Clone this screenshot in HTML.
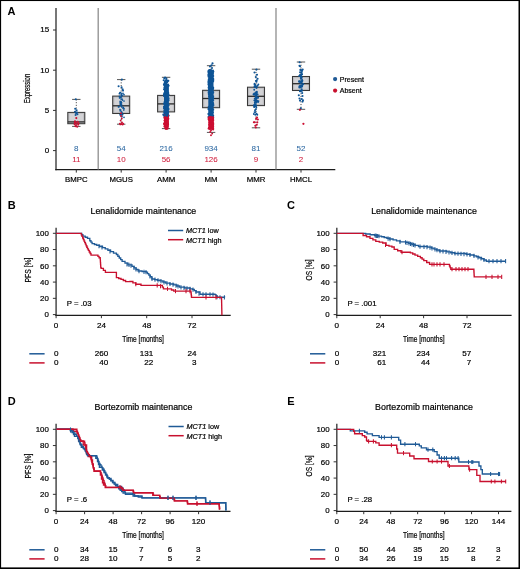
<!DOCTYPE html>
<html><head><meta charset="utf-8"><style>
html,body{margin:0;padding:0;background:#fff;}
svg{display:block;font-family:"Liberation Sans", sans-serif;will-change:transform;}
</style></head><body>
<svg width="520" height="569" viewBox="0 0 520 569">
<rect x="0" y="0" width="520" height="569" fill="#fff"/>
<text x="7.60" y="15.40" font-size="11" text-anchor="start" fill="#000" font-weight="bold" font-style="normal" >A</text>
<line x1="56.00" y1="8.00" x2="56.00" y2="170.20" stroke="#4a4a4a" stroke-width="1.5" />
<line x1="55.30" y1="169.60" x2="335.30" y2="169.60" stroke="#1c1c1c" stroke-width="1.3" />
<line x1="53.00" y1="150.60" x2="56.00" y2="150.60" stroke="#333333" stroke-width="1" />
<text x="49.20" y="152.90" font-size="8" text-anchor="end" fill="#000000" stroke="#000000" stroke-width="0.2" font-weight="normal" font-style="normal" >0</text>
<line x1="53.00" y1="110.40" x2="56.00" y2="110.40" stroke="#333333" stroke-width="1" />
<text x="49.20" y="112.70" font-size="8" text-anchor="end" fill="#000000" stroke="#000000" stroke-width="0.2" font-weight="normal" font-style="normal" >5</text>
<line x1="53.00" y1="70.20" x2="56.00" y2="70.20" stroke="#333333" stroke-width="1" />
<text x="49.20" y="72.50" font-size="8" text-anchor="end" fill="#000000" stroke="#000000" stroke-width="0.2" font-weight="normal" font-style="normal" >10</text>
<line x1="53.00" y1="30.00" x2="56.00" y2="30.00" stroke="#333333" stroke-width="1" />
<text x="49.20" y="32.30" font-size="8" text-anchor="end" fill="#000000" stroke="#000000" stroke-width="0.2" font-weight="normal" font-style="normal" >15</text>
<text transform="translate(30.3,88.5) rotate(-90)" font-size="9.2" text-anchor="middle" fill="#000000" stroke="#000000" stroke-width="0.2" textLength="29.5" lengthAdjust="spacingAndGlyphs">Expression</text>
<line x1="98.20" y1="8.00" x2="98.20" y2="169.60" stroke="#8e8e8e" stroke-width="1.3" />
<line x1="276.00" y1="8.00" x2="276.00" y2="169.60" stroke="#8e8e8e" stroke-width="1.3" />
<line x1="76.30" y1="169.60" x2="76.30" y2="172.60" stroke="#333333" stroke-width="1" />
<text x="76.30" y="182.30" font-size="7.8" text-anchor="middle" fill="#000000" stroke="#000000" stroke-width="0.2" font-weight="normal" font-style="normal" >BMPC</text>
<text x="76.30" y="150.80" font-size="8" text-anchor="middle" fill="#2f6aa3" stroke="#2f6aa3" stroke-width="0.05" font-weight="normal" font-style="normal" >8</text>
<text x="76.30" y="162.00" font-size="8" text-anchor="middle" fill="#d0203f" stroke="#d0203f" stroke-width="0.05" font-weight="normal" font-style="normal" >11</text>
<line x1="76.30" y1="99.40" x2="76.30" y2="112.40" stroke="#333" stroke-width="0.9" stroke-dasharray="1.1,1.6"/>
<line x1="76.30" y1="123.70" x2="76.30" y2="126.40" stroke="#333" stroke-width="0.9" stroke-dasharray="1.1,1.6"/>
<line x1="72.10" y1="99.40" x2="80.50" y2="99.40" stroke="#555" stroke-width="1" />
<line x1="72.10" y1="126.40" x2="80.50" y2="126.40" stroke="#555" stroke-width="1" />
<rect x="67.80" y="112.40" width="17" height="11.30" fill="#c0c0c3" stroke="#383838" stroke-width="1.05"/>
<rect x="69.50" y="114.00" width="13.6" height="8.10" fill="#d3d3d6"/>
<line x1="67.90" y1="121.90" x2="84.70" y2="121.90" stroke="#2a2a2a" stroke-width="1.3" />
<line x1="121.20" y1="169.60" x2="121.20" y2="172.60" stroke="#333333" stroke-width="1" />
<text x="121.20" y="182.30" font-size="7.8" text-anchor="middle" fill="#000000" stroke="#000000" stroke-width="0.2" font-weight="normal" font-style="normal" >MGUS</text>
<text x="121.20" y="150.80" font-size="8" text-anchor="middle" fill="#2f6aa3" stroke="#2f6aa3" stroke-width="0.05" font-weight="normal" font-style="normal" >54</text>
<text x="121.20" y="162.00" font-size="8" text-anchor="middle" fill="#d0203f" stroke="#d0203f" stroke-width="0.05" font-weight="normal" font-style="normal" >10</text>
<line x1="121.20" y1="79.60" x2="121.20" y2="96.10" stroke="#333" stroke-width="0.9" stroke-dasharray="1.1,1.6"/>
<line x1="121.20" y1="113.50" x2="121.20" y2="124.20" stroke="#333" stroke-width="0.9" stroke-dasharray="1.1,1.6"/>
<line x1="117.00" y1="79.60" x2="125.40" y2="79.60" stroke="#555" stroke-width="1" />
<line x1="117.00" y1="124.20" x2="125.40" y2="124.20" stroke="#555" stroke-width="1" />
<rect x="112.70" y="96.10" width="17" height="17.40" fill="#c0c0c3" stroke="#383838" stroke-width="1.05"/>
<rect x="114.40" y="97.70" width="13.6" height="14.20" fill="#d3d3d6"/>
<line x1="112.80" y1="105.80" x2="129.60" y2="105.80" stroke="#2a2a2a" stroke-width="1.3" />
<line x1="166.10" y1="169.60" x2="166.10" y2="172.60" stroke="#333333" stroke-width="1" />
<text x="166.10" y="182.30" font-size="7.8" text-anchor="middle" fill="#000000" stroke="#000000" stroke-width="0.2" font-weight="normal" font-style="normal" >AMM</text>
<text x="166.10" y="150.80" font-size="8" text-anchor="middle" fill="#2f6aa3" stroke="#2f6aa3" stroke-width="0.05" font-weight="normal" font-style="normal" >216</text>
<text x="166.10" y="162.00" font-size="8" text-anchor="middle" fill="#d0203f" stroke="#d0203f" stroke-width="0.05" font-weight="normal" font-style="normal" >56</text>
<line x1="166.10" y1="77.30" x2="166.10" y2="95.40" stroke="#333" stroke-width="0.9" stroke-dasharray="1.1,1.6"/>
<line x1="166.10" y1="111.90" x2="166.10" y2="128.60" stroke="#333" stroke-width="0.9" stroke-dasharray="1.1,1.6"/>
<line x1="161.90" y1="77.30" x2="170.30" y2="77.30" stroke="#555" stroke-width="1" />
<line x1="161.90" y1="128.60" x2="170.30" y2="128.60" stroke="#555" stroke-width="1" />
<rect x="157.60" y="95.40" width="17" height="16.50" fill="#c0c0c3" stroke="#383838" stroke-width="1.05"/>
<rect x="159.30" y="97.00" width="13.6" height="13.30" fill="#d3d3d6"/>
<line x1="157.70" y1="103.90" x2="174.50" y2="103.90" stroke="#2a2a2a" stroke-width="1.3" />
<line x1="211.10" y1="169.60" x2="211.10" y2="172.60" stroke="#333333" stroke-width="1" />
<text x="211.10" y="182.30" font-size="7.8" text-anchor="middle" fill="#000000" stroke="#000000" stroke-width="0.2" font-weight="normal" font-style="normal" >MM</text>
<text x="211.10" y="150.80" font-size="8" text-anchor="middle" fill="#2f6aa3" stroke="#2f6aa3" stroke-width="0.05" font-weight="normal" font-style="normal" >934</text>
<text x="211.10" y="162.00" font-size="8" text-anchor="middle" fill="#d0203f" stroke="#d0203f" stroke-width="0.05" font-weight="normal" font-style="normal" >126</text>
<line x1="211.10" y1="65.70" x2="211.10" y2="90.30" stroke="#333" stroke-width="0.9" stroke-dasharray="1.1,1.6"/>
<line x1="211.10" y1="107.70" x2="211.10" y2="132.40" stroke="#333" stroke-width="0.9" stroke-dasharray="1.1,1.6"/>
<line x1="206.90" y1="65.70" x2="215.30" y2="65.70" stroke="#555" stroke-width="1" />
<line x1="206.90" y1="132.40" x2="215.30" y2="132.40" stroke="#555" stroke-width="1" />
<rect x="202.60" y="90.30" width="17" height="17.40" fill="#c0c0c3" stroke="#383838" stroke-width="1.05"/>
<rect x="204.30" y="91.90" width="13.6" height="14.20" fill="#d3d3d6"/>
<line x1="202.70" y1="98.50" x2="219.50" y2="98.50" stroke="#2a2a2a" stroke-width="1.3" />
<line x1="256.00" y1="169.60" x2="256.00" y2="172.60" stroke="#333333" stroke-width="1" />
<text x="256.00" y="182.30" font-size="7.8" text-anchor="middle" fill="#000000" stroke="#000000" stroke-width="0.2" font-weight="normal" font-style="normal" >MMR</text>
<text x="256.00" y="150.80" font-size="8" text-anchor="middle" fill="#2f6aa3" stroke="#2f6aa3" stroke-width="0.05" font-weight="normal" font-style="normal" >81</text>
<text x="256.00" y="162.00" font-size="8" text-anchor="middle" fill="#d0203f" stroke="#d0203f" stroke-width="0.05" font-weight="normal" font-style="normal" >9</text>
<line x1="256.00" y1="69.20" x2="256.00" y2="87.20" stroke="#333" stroke-width="0.9" stroke-dasharray="1.1,1.6"/>
<line x1="256.00" y1="105.60" x2="256.00" y2="127.80" stroke="#333" stroke-width="0.9" stroke-dasharray="1.1,1.6"/>
<line x1="251.80" y1="69.20" x2="260.20" y2="69.20" stroke="#555" stroke-width="1" />
<line x1="251.80" y1="127.80" x2="260.20" y2="127.80" stroke="#555" stroke-width="1" />
<rect x="247.50" y="87.20" width="17" height="18.40" fill="#c0c0c3" stroke="#383838" stroke-width="1.05"/>
<rect x="249.20" y="88.80" width="13.6" height="15.20" fill="#d3d3d6"/>
<line x1="247.60" y1="96.30" x2="264.40" y2="96.30" stroke="#2a2a2a" stroke-width="1.3" />
<line x1="301.00" y1="169.60" x2="301.00" y2="172.60" stroke="#333333" stroke-width="1" />
<text x="301.00" y="182.30" font-size="7.8" text-anchor="middle" fill="#000000" stroke="#000000" stroke-width="0.2" font-weight="normal" font-style="normal" >HMCL</text>
<text x="301.00" y="150.80" font-size="8" text-anchor="middle" fill="#2f6aa3" stroke="#2f6aa3" stroke-width="0.05" font-weight="normal" font-style="normal" >52</text>
<text x="301.00" y="162.00" font-size="8" text-anchor="middle" fill="#d0203f" stroke="#d0203f" stroke-width="0.05" font-weight="normal" font-style="normal" >2</text>
<line x1="301.00" y1="62.00" x2="301.00" y2="76.50" stroke="#333" stroke-width="0.9" stroke-dasharray="1.1,1.6"/>
<line x1="301.00" y1="90.50" x2="301.00" y2="109.30" stroke="#333" stroke-width="0.9" stroke-dasharray="1.1,1.6"/>
<line x1="296.80" y1="62.00" x2="305.20" y2="62.00" stroke="#555" stroke-width="1" />
<line x1="296.80" y1="109.30" x2="305.20" y2="109.30" stroke="#555" stroke-width="1" />
<rect x="292.50" y="76.50" width="17" height="14.00" fill="#c0c0c3" stroke="#383838" stroke-width="1.05"/>
<rect x="294.20" y="78.10" width="13.6" height="10.80" fill="#d3d3d6"/>
<line x1="292.60" y1="83.70" x2="309.40" y2="83.70" stroke="#2a2a2a" stroke-width="1.3" />
<rect x="164.0" y="84" width="4.9" height="31" fill="#0f5596"/>
<rect x="164.0" y="115.5" width="4.9" height="12" fill="#cc0f32"/>
<rect x="208.3" y="73" width="5.2" height="44.3" fill="#0f5596"/>
<rect x="208.3" y="117.3" width="5.2" height="11.7" fill="#cc0f32"/>
<circle cx="75.80" cy="99.30" r="1.05" fill="#0f5596"/>
<circle cx="75.20" cy="108.80" r="1.05" fill="#0f5596"/>
<circle cx="76.60" cy="110.20" r="1.05" fill="#0f5596"/>
<circle cx="75.00" cy="111.80" r="1.05" fill="#0f5596"/>
<circle cx="76.20" cy="113.20" r="1.05" fill="#0f5596"/>
<circle cx="77.40" cy="114.20" r="1.05" fill="#0f5596"/>
<circle cx="75.60" cy="115.00" r="1.05" fill="#0f5596"/>
<circle cx="77.00" cy="112.50" r="1.05" fill="#0f5596"/>
<circle cx="76.30" cy="118.10" r="1.05" fill="#cc0f32"/>
<circle cx="75.00" cy="121.30" r="1.05" fill="#cc0f32"/>
<circle cx="77.60" cy="121.80" r="1.05" fill="#cc0f32"/>
<circle cx="76.20" cy="123.00" r="1.05" fill="#cc0f32"/>
<circle cx="74.60" cy="124.20" r="1.05" fill="#cc0f32"/>
<circle cx="78.20" cy="124.60" r="1.05" fill="#cc0f32"/>
<circle cx="75.40" cy="126.30" r="1.05" fill="#cc0f32"/>
<circle cx="77.20" cy="126.80" r="1.05" fill="#cc0f32"/>
<circle cx="76.00" cy="125.20" r="1.05" fill="#cc0f32"/>
<circle cx="78.60" cy="123.20" r="1.05" fill="#cc0f32"/>
<circle cx="74.80" cy="122.60" r="1.05" fill="#cc0f32"/>
<circle cx="121.90" cy="79.60" r="1.05" fill="#0f5596"/>
<circle cx="118.60" cy="86.20" r="1.05" fill="#0f5596"/>
<circle cx="121.60" cy="87.20" r="1.05" fill="#0f5596"/>
<circle cx="122.60" cy="89.20" r="1.05" fill="#0f5596"/>
<circle cx="123.00" cy="90.60" r="1.05" fill="#0f5596"/>
<circle cx="122.47" cy="100.08" r="0.85" fill="#0f5596"/>
<circle cx="122.97" cy="93.42" r="0.85" fill="#0f5596"/>
<circle cx="120.86" cy="105.70" r="0.85" fill="#0f5596"/>
<circle cx="121.59" cy="104.95" r="0.85" fill="#0f5596"/>
<circle cx="120.68" cy="92.49" r="0.85" fill="#0f5596"/>
<circle cx="121.43" cy="93.90" r="0.85" fill="#0f5596"/>
<circle cx="121.56" cy="102.75" r="0.85" fill="#0f5596"/>
<circle cx="120.52" cy="97.42" r="0.85" fill="#0f5596"/>
<circle cx="123.06" cy="108.13" r="0.85" fill="#0f5596"/>
<circle cx="120.56" cy="102.01" r="0.85" fill="#0f5596"/>
<circle cx="124.00" cy="117.37" r="0.85" fill="#0f5596"/>
<circle cx="122.06" cy="99.17" r="0.85" fill="#0f5596"/>
<circle cx="122.15" cy="95.32" r="0.85" fill="#0f5596"/>
<circle cx="122.07" cy="113.13" r="0.85" fill="#0f5596"/>
<circle cx="119.33" cy="96.29" r="0.85" fill="#0f5596"/>
<circle cx="120.15" cy="101.37" r="0.85" fill="#0f5596"/>
<circle cx="121.69" cy="106.02" r="0.85" fill="#0f5596"/>
<circle cx="121.40" cy="96.96" r="0.85" fill="#0f5596"/>
<circle cx="120.03" cy="109.53" r="0.85" fill="#0f5596"/>
<circle cx="121.77" cy="107.02" r="0.85" fill="#0f5596"/>
<circle cx="120.38" cy="103.51" r="0.85" fill="#0f5596"/>
<circle cx="123.74" cy="110.02" r="0.85" fill="#0f5596"/>
<circle cx="119.57" cy="97.97" r="0.85" fill="#0f5596"/>
<circle cx="120.37" cy="114.69" r="0.85" fill="#0f5596"/>
<circle cx="120.21" cy="110.83" r="0.85" fill="#0f5596"/>
<circle cx="124.00" cy="94.63" r="0.85" fill="#0f5596"/>
<circle cx="121.24" cy="102.58" r="0.85" fill="#0f5596"/>
<circle cx="120.34" cy="104.46" r="0.85" fill="#0f5596"/>
<circle cx="119.95" cy="92.54" r="0.85" fill="#0f5596"/>
<circle cx="118.98" cy="106.69" r="0.85" fill="#0f5596"/>
<circle cx="120.30" cy="114.70" r="0.85" fill="#0f5596"/>
<circle cx="123.33" cy="107.25" r="0.85" fill="#0f5596"/>
<circle cx="118.44" cy="106.87" r="0.85" fill="#0f5596"/>
<circle cx="121.98" cy="116.53" r="0.85" fill="#0f5596"/>
<circle cx="120.93" cy="104.06" r="0.85" fill="#0f5596"/>
<circle cx="120.74" cy="110.09" r="0.85" fill="#0f5596"/>
<circle cx="123.98" cy="108.65" r="0.85" fill="#0f5596"/>
<circle cx="121.08" cy="99.04" r="0.85" fill="#0f5596"/>
<circle cx="121.04" cy="101.72" r="0.85" fill="#0f5596"/>
<circle cx="120.92" cy="103.73" r="0.85" fill="#0f5596"/>
<circle cx="121.59" cy="95.95" r="0.85" fill="#0f5596"/>
<circle cx="121.55" cy="111.86" r="0.85" fill="#0f5596"/>
<circle cx="121.22" cy="94.93" r="0.85" fill="#0f5596"/>
<circle cx="122.69" cy="114.59" r="0.85" fill="#0f5596"/>
<circle cx="119.40" cy="93.64" r="0.85" fill="#0f5596"/>
<circle cx="121.79" cy="114.91" r="0.85" fill="#0f5596"/>
<circle cx="122.00" cy="113.21" r="0.85" fill="#0f5596"/>
<circle cx="120.29" cy="102.51" r="0.85" fill="#0f5596"/>
<circle cx="124.00" cy="101.01" r="0.85" fill="#0f5596"/>
<circle cx="121.00" cy="113.20" r="0.95" fill="#cc0f32"/>
<circle cx="121.80" cy="118.50" r="0.95" fill="#cc0f32"/>
<circle cx="120.60" cy="120.60" r="0.95" fill="#cc0f32"/>
<circle cx="122.00" cy="122.40" r="0.95" fill="#cc0f32"/>
<circle cx="119.80" cy="123.60" r="0.95" fill="#cc0f32"/>
<circle cx="121.40" cy="124.00" r="0.95" fill="#cc0f32"/>
<circle cx="123.20" cy="123.80" r="0.95" fill="#cc0f32"/>
<circle cx="120.40" cy="124.40" r="0.95" fill="#cc0f32"/>
<circle cx="122.60" cy="124.60" r="0.95" fill="#cc0f32"/>
<circle cx="121.00" cy="116.00" r="0.95" fill="#cc0f32"/>
<circle cx="164.29" cy="78.36" r="1.05" fill="#0f5596"/>
<circle cx="166.40" cy="78.59" r="1.05" fill="#0f5596"/>
<circle cx="167.17" cy="81.36" r="1.05" fill="#0f5596"/>
<circle cx="166.29" cy="82.30" r="1.05" fill="#0f5596"/>
<circle cx="166.41" cy="80.77" r="1.05" fill="#0f5596"/>
<circle cx="163.70" cy="80.32" r="1.05" fill="#0f5596"/>
<circle cx="165.10" cy="83.21" r="1.05" fill="#0f5596"/>
<circle cx="164.97" cy="81.64" r="1.05" fill="#0f5596"/>
<circle cx="165.09" cy="77.49" r="1.05" fill="#0f5596"/>
<circle cx="166.76" cy="85.10" r="1.05" fill="#0f5596"/>
<circle cx="163.90" cy="84.18" r="1.05" fill="#0f5596"/>
<circle cx="165.85" cy="80.53" r="1.05" fill="#0f5596"/>
<circle cx="166.69" cy="102.83" r="1.05" fill="#0f5596"/>
<circle cx="167.17" cy="82.24" r="1.05" fill="#0f5596"/>
<circle cx="166.69" cy="85.84" r="1.05" fill="#0f5596"/>
<circle cx="166.33" cy="92.24" r="1.05" fill="#0f5596"/>
<circle cx="166.31" cy="85.45" r="1.05" fill="#0f5596"/>
<circle cx="166.09" cy="83.65" r="1.05" fill="#0f5596"/>
<circle cx="166.54" cy="111.48" r="1.05" fill="#0f5596"/>
<circle cx="166.94" cy="102.11" r="1.05" fill="#0f5596"/>
<circle cx="167.16" cy="92.51" r="1.05" fill="#0f5596"/>
<circle cx="168.25" cy="93.11" r="1.05" fill="#0f5596"/>
<circle cx="168.20" cy="115.75" r="1.05" fill="#0f5596"/>
<circle cx="165.71" cy="96.78" r="1.05" fill="#0f5596"/>
<circle cx="166.36" cy="83.68" r="1.05" fill="#0f5596"/>
<circle cx="166.06" cy="92.33" r="1.05" fill="#0f5596"/>
<circle cx="168.60" cy="85.81" r="1.05" fill="#0f5596"/>
<circle cx="167.94" cy="80.83" r="1.05" fill="#0f5596"/>
<circle cx="165.78" cy="85.28" r="1.05" fill="#0f5596"/>
<circle cx="167.99" cy="99.55" r="1.05" fill="#0f5596"/>
<circle cx="166.59" cy="115.23" r="1.05" fill="#0f5596"/>
<circle cx="165.94" cy="111.08" r="1.05" fill="#0f5596"/>
<circle cx="165.27" cy="93.20" r="1.05" fill="#0f5596"/>
<circle cx="166.54" cy="86.01" r="1.05" fill="#0f5596"/>
<circle cx="164.59" cy="108.05" r="1.05" fill="#0f5596"/>
<circle cx="166.73" cy="91.87" r="1.05" fill="#0f5596"/>
<circle cx="168.60" cy="115.46" r="1.05" fill="#0f5596"/>
<circle cx="167.19" cy="110.69" r="1.05" fill="#0f5596"/>
<circle cx="164.00" cy="106.64" r="1.05" fill="#0f5596"/>
<circle cx="165.00" cy="88.16" r="1.05" fill="#0f5596"/>
<circle cx="166.15" cy="81.04" r="1.05" fill="#0f5596"/>
<circle cx="166.10" cy="81.01" r="1.05" fill="#0f5596"/>
<circle cx="167.37" cy="104.93" r="1.05" fill="#0f5596"/>
<circle cx="164.00" cy="114.43" r="1.05" fill="#0f5596"/>
<circle cx="167.37" cy="115.57" r="1.05" fill="#0f5596"/>
<circle cx="165.65" cy="114.38" r="1.05" fill="#0f5596"/>
<circle cx="167.04" cy="88.17" r="1.05" fill="#0f5596"/>
<circle cx="166.85" cy="87.08" r="1.05" fill="#0f5596"/>
<circle cx="168.18" cy="112.41" r="1.05" fill="#0f5596"/>
<circle cx="164.28" cy="110.26" r="1.05" fill="#0f5596"/>
<circle cx="166.56" cy="108.79" r="1.05" fill="#0f5596"/>
<circle cx="164.66" cy="83.05" r="1.05" fill="#0f5596"/>
<circle cx="164.00" cy="108.16" r="1.05" fill="#0f5596"/>
<circle cx="165.43" cy="107.01" r="1.05" fill="#0f5596"/>
<circle cx="166.42" cy="108.41" r="1.05" fill="#0f5596"/>
<circle cx="167.47" cy="91.97" r="1.05" fill="#0f5596"/>
<circle cx="164.00" cy="94.25" r="1.05" fill="#0f5596"/>
<circle cx="168.42" cy="94.45" r="1.05" fill="#0f5596"/>
<circle cx="165.56" cy="86.12" r="1.05" fill="#0f5596"/>
<circle cx="168.07" cy="84.57" r="1.05" fill="#0f5596"/>
<circle cx="168.60" cy="109.03" r="1.05" fill="#0f5596"/>
<circle cx="168.11" cy="85.26" r="1.05" fill="#0f5596"/>
<circle cx="164.00" cy="103.66" r="1.05" fill="#0f5596"/>
<circle cx="165.59" cy="92.61" r="1.05" fill="#0f5596"/>
<circle cx="166.08" cy="80.51" r="1.05" fill="#0f5596"/>
<circle cx="165.29" cy="114.95" r="1.05" fill="#0f5596"/>
<circle cx="164.92" cy="113.61" r="1.05" fill="#0f5596"/>
<circle cx="168.11" cy="95.62" r="1.05" fill="#0f5596"/>
<circle cx="164.41" cy="87.60" r="1.05" fill="#0f5596"/>
<circle cx="166.02" cy="89.07" r="1.05" fill="#0f5596"/>
<circle cx="167.30" cy="101.11" r="1.05" fill="#0f5596"/>
<circle cx="165.65" cy="89.34" r="1.05" fill="#0f5596"/>
<circle cx="166.66" cy="112.76" r="1.05" fill="#0f5596"/>
<circle cx="164.51" cy="92.74" r="1.05" fill="#0f5596"/>
<circle cx="166.78" cy="112.55" r="1.05" fill="#0f5596"/>
<circle cx="167.74" cy="95.14" r="1.05" fill="#0f5596"/>
<circle cx="165.48" cy="99.15" r="1.05" fill="#0f5596"/>
<circle cx="167.80" cy="98.85" r="1.05" fill="#0f5596"/>
<circle cx="166.48" cy="86.59" r="1.05" fill="#0f5596"/>
<circle cx="166.56" cy="80.14" r="1.05" fill="#0f5596"/>
<circle cx="165.48" cy="97.05" r="1.05" fill="#0f5596"/>
<circle cx="165.13" cy="106.11" r="1.05" fill="#0f5596"/>
<circle cx="165.87" cy="98.66" r="1.05" fill="#0f5596"/>
<circle cx="166.44" cy="100.00" r="1.05" fill="#0f5596"/>
<circle cx="165.65" cy="100.17" r="1.05" fill="#0f5596"/>
<circle cx="165.89" cy="88.95" r="1.05" fill="#0f5596"/>
<circle cx="168.60" cy="98.28" r="1.05" fill="#0f5596"/>
<circle cx="166.49" cy="100.22" r="1.05" fill="#0f5596"/>
<circle cx="164.00" cy="95.96" r="1.05" fill="#0f5596"/>
<circle cx="164.62" cy="102.05" r="1.05" fill="#0f5596"/>
<circle cx="166.24" cy="104.94" r="1.05" fill="#0f5596"/>
<circle cx="164.74" cy="96.28" r="1.05" fill="#0f5596"/>
<circle cx="165.97" cy="113.89" r="1.05" fill="#0f5596"/>
<circle cx="168.60" cy="105.17" r="1.05" fill="#0f5596"/>
<circle cx="164.00" cy="89.35" r="1.05" fill="#0f5596"/>
<circle cx="168.60" cy="100.14" r="1.05" fill="#0f5596"/>
<circle cx="165.36" cy="84.94" r="1.05" fill="#0f5596"/>
<circle cx="165.79" cy="84.38" r="1.05" fill="#0f5596"/>
<circle cx="166.49" cy="88.66" r="1.05" fill="#0f5596"/>
<circle cx="165.11" cy="82.63" r="1.05" fill="#0f5596"/>
<circle cx="164.16" cy="112.29" r="1.05" fill="#0f5596"/>
<circle cx="165.87" cy="85.56" r="1.05" fill="#0f5596"/>
<circle cx="164.29" cy="85.15" r="1.05" fill="#0f5596"/>
<circle cx="167.27" cy="111.78" r="1.05" fill="#0f5596"/>
<circle cx="166.10" cy="114.29" r="1.05" fill="#0f5596"/>
<circle cx="164.00" cy="94.34" r="1.05" fill="#0f5596"/>
<circle cx="166.64" cy="109.97" r="1.05" fill="#0f5596"/>
<circle cx="164.77" cy="85.81" r="1.05" fill="#0f5596"/>
<circle cx="167.00" cy="92.21" r="1.05" fill="#0f5596"/>
<circle cx="165.36" cy="87.05" r="1.05" fill="#0f5596"/>
<circle cx="168.34" cy="80.70" r="1.05" fill="#0f5596"/>
<circle cx="166.05" cy="99.95" r="1.05" fill="#0f5596"/>
<circle cx="166.40" cy="91.93" r="1.05" fill="#0f5596"/>
<circle cx="165.79" cy="102.46" r="1.05" fill="#0f5596"/>
<circle cx="166.26" cy="115.46" r="1.05" fill="#0f5596"/>
<circle cx="166.95" cy="108.38" r="1.05" fill="#0f5596"/>
<circle cx="166.18" cy="89.56" r="1.05" fill="#0f5596"/>
<circle cx="166.50" cy="81.43" r="1.05" fill="#0f5596"/>
<circle cx="165.21" cy="84.66" r="1.05" fill="#0f5596"/>
<circle cx="168.50" cy="95.20" r="1.05" fill="#0f5596"/>
<circle cx="164.93" cy="89.31" r="1.05" fill="#0f5596"/>
<circle cx="167.89" cy="85.38" r="1.05" fill="#0f5596"/>
<circle cx="165.54" cy="124.81" r="1.05" fill="#cc0f32"/>
<circle cx="168.01" cy="116.25" r="1.05" fill="#cc0f32"/>
<circle cx="166.95" cy="120.95" r="1.05" fill="#cc0f32"/>
<circle cx="167.88" cy="116.01" r="1.05" fill="#cc0f32"/>
<circle cx="165.66" cy="126.22" r="1.05" fill="#cc0f32"/>
<circle cx="166.58" cy="116.17" r="1.05" fill="#cc0f32"/>
<circle cx="165.95" cy="127.08" r="1.05" fill="#cc0f32"/>
<circle cx="165.49" cy="121.35" r="1.05" fill="#cc0f32"/>
<circle cx="167.59" cy="127.97" r="1.05" fill="#cc0f32"/>
<circle cx="167.31" cy="118.75" r="1.05" fill="#cc0f32"/>
<circle cx="167.37" cy="118.34" r="1.05" fill="#cc0f32"/>
<circle cx="166.50" cy="116.53" r="1.05" fill="#cc0f32"/>
<circle cx="166.63" cy="117.82" r="1.05" fill="#cc0f32"/>
<circle cx="165.61" cy="119.37" r="1.05" fill="#cc0f32"/>
<circle cx="168.21" cy="119.06" r="1.05" fill="#cc0f32"/>
<circle cx="166.78" cy="122.00" r="1.05" fill="#cc0f32"/>
<circle cx="167.30" cy="115.25" r="1.05" fill="#cc0f32"/>
<circle cx="168.24" cy="118.51" r="1.05" fill="#cc0f32"/>
<circle cx="166.49" cy="122.71" r="1.05" fill="#cc0f32"/>
<circle cx="164.30" cy="117.65" r="1.05" fill="#cc0f32"/>
<circle cx="166.74" cy="116.49" r="1.05" fill="#cc0f32"/>
<circle cx="165.02" cy="126.46" r="1.05" fill="#cc0f32"/>
<circle cx="166.88" cy="126.68" r="1.05" fill="#cc0f32"/>
<circle cx="164.47" cy="120.50" r="1.05" fill="#cc0f32"/>
<circle cx="166.22" cy="128.75" r="1.05" fill="#cc0f32"/>
<circle cx="167.23" cy="119.80" r="1.05" fill="#cc0f32"/>
<circle cx="164.67" cy="123.90" r="1.05" fill="#cc0f32"/>
<circle cx="166.07" cy="120.67" r="1.05" fill="#cc0f32"/>
<circle cx="166.63" cy="116.82" r="1.05" fill="#cc0f32"/>
<circle cx="166.25" cy="115.99" r="1.05" fill="#cc0f32"/>
<circle cx="165.38" cy="117.29" r="1.05" fill="#cc0f32"/>
<circle cx="167.62" cy="116.18" r="1.05" fill="#cc0f32"/>
<circle cx="164.30" cy="124.39" r="1.05" fill="#cc0f32"/>
<circle cx="166.35" cy="118.95" r="1.05" fill="#cc0f32"/>
<circle cx="167.30" cy="121.43" r="1.05" fill="#cc0f32"/>
<circle cx="165.42" cy="117.21" r="1.05" fill="#cc0f32"/>
<circle cx="166.61" cy="128.47" r="1.05" fill="#cc0f32"/>
<circle cx="165.44" cy="128.62" r="1.05" fill="#cc0f32"/>
<circle cx="166.04" cy="128.52" r="1.05" fill="#cc0f32"/>
<circle cx="166.27" cy="119.33" r="1.05" fill="#cc0f32"/>
<circle cx="166.34" cy="120.34" r="1.05" fill="#cc0f32"/>
<circle cx="165.50" cy="121.65" r="1.05" fill="#cc0f32"/>
<circle cx="166.29" cy="122.07" r="1.05" fill="#cc0f32"/>
<circle cx="166.25" cy="115.07" r="1.05" fill="#cc0f32"/>
<circle cx="166.82" cy="120.59" r="1.05" fill="#cc0f32"/>
<circle cx="167.31" cy="115.58" r="1.05" fill="#cc0f32"/>
<circle cx="166.44" cy="118.26" r="1.05" fill="#cc0f32"/>
<circle cx="164.33" cy="123.20" r="1.05" fill="#cc0f32"/>
<circle cx="165.94" cy="124.21" r="1.05" fill="#cc0f32"/>
<circle cx="167.16" cy="125.02" r="1.05" fill="#cc0f32"/>
<circle cx="165.48" cy="119.57" r="1.05" fill="#cc0f32"/>
<circle cx="167.44" cy="128.79" r="1.05" fill="#cc0f32"/>
<circle cx="167.85" cy="124.01" r="1.05" fill="#cc0f32"/>
<circle cx="167.59" cy="115.61" r="1.05" fill="#cc0f32"/>
<circle cx="164.30" cy="123.78" r="1.05" fill="#cc0f32"/>
<circle cx="166.55" cy="125.27" r="1.05" fill="#cc0f32"/>
<circle cx="165.69" cy="122.33" r="1.05" fill="#cc0f32"/>
<circle cx="167.40" cy="122.06" r="1.05" fill="#cc0f32"/>
<circle cx="164.43" cy="126.57" r="1.05" fill="#cc0f32"/>
<circle cx="167.72" cy="123.18" r="1.05" fill="#cc0f32"/>
<circle cx="165.17" cy="124.71" r="1.05" fill="#cc0f32"/>
<circle cx="166.93" cy="118.22" r="1.05" fill="#cc0f32"/>
<circle cx="166.42" cy="120.05" r="1.05" fill="#cc0f32"/>
<circle cx="167.09" cy="116.47" r="1.05" fill="#cc0f32"/>
<circle cx="164.98" cy="123.79" r="1.05" fill="#cc0f32"/>
<circle cx="165.71" cy="123.77" r="1.05" fill="#cc0f32"/>
<circle cx="165.04" cy="115.05" r="1.05" fill="#cc0f32"/>
<circle cx="166.28" cy="126.17" r="1.05" fill="#cc0f32"/>
<circle cx="164.88" cy="122.49" r="1.05" fill="#cc0f32"/>
<circle cx="168.09" cy="124.23" r="1.05" fill="#cc0f32"/>
<circle cx="167.29" cy="114.26" r="1.05" fill="#0f5596"/>
<circle cx="167.35" cy="115.69" r="1.05" fill="#0f5596"/>
<circle cx="166.83" cy="114.12" r="1.05" fill="#0f5596"/>
<circle cx="166.04" cy="114.98" r="1.05" fill="#0f5596"/>
<circle cx="163.30" cy="114.65" r="1.05" fill="#0f5596"/>
<circle cx="164.04" cy="115.80" r="1.05" fill="#0f5596"/>
<circle cx="166.60" cy="115.35" r="1.05" fill="#0f5596"/>
<circle cx="165.92" cy="113.94" r="1.05" fill="#0f5596"/>
<circle cx="165.83" cy="114.26" r="1.05" fill="#0f5596"/>
<circle cx="166.25" cy="115.20" r="1.05" fill="#0f5596"/>
<circle cx="212.50" cy="63.40" r="1.05" fill="#0f5596"/>
<circle cx="211.50" cy="65.20" r="1.05" fill="#0f5596"/>
<circle cx="210.00" cy="66.50" r="1.05" fill="#0f5596"/>
<circle cx="212.00" cy="68.00" r="1.05" fill="#0f5596"/>
<circle cx="209.80" cy="70.20" r="1.05" fill="#0f5596"/>
<circle cx="211.50" cy="70.80" r="1.05" fill="#0f5596"/>
<circle cx="213.00" cy="72.00" r="1.05" fill="#0f5596"/>
<circle cx="209.62" cy="70.60" r="1.05" fill="#0f5596"/>
<circle cx="210.64" cy="72.91" r="1.05" fill="#0f5596"/>
<circle cx="213.12" cy="103.22" r="1.05" fill="#0f5596"/>
<circle cx="210.44" cy="102.43" r="1.05" fill="#0f5596"/>
<circle cx="212.65" cy="92.30" r="1.05" fill="#0f5596"/>
<circle cx="213.20" cy="92.38" r="1.05" fill="#0f5596"/>
<circle cx="213.05" cy="79.56" r="1.05" fill="#0f5596"/>
<circle cx="211.16" cy="116.95" r="1.05" fill="#0f5596"/>
<circle cx="210.79" cy="92.03" r="1.05" fill="#0f5596"/>
<circle cx="212.51" cy="109.36" r="1.05" fill="#0f5596"/>
<circle cx="210.57" cy="82.90" r="1.05" fill="#0f5596"/>
<circle cx="211.87" cy="80.07" r="1.05" fill="#0f5596"/>
<circle cx="210.55" cy="97.91" r="1.05" fill="#0f5596"/>
<circle cx="208.60" cy="76.80" r="1.05" fill="#0f5596"/>
<circle cx="210.34" cy="76.37" r="1.05" fill="#0f5596"/>
<circle cx="208.60" cy="109.37" r="1.05" fill="#0f5596"/>
<circle cx="210.73" cy="103.76" r="1.05" fill="#0f5596"/>
<circle cx="212.29" cy="81.11" r="1.05" fill="#0f5596"/>
<circle cx="209.86" cy="71.19" r="1.05" fill="#0f5596"/>
<circle cx="209.26" cy="70.17" r="1.05" fill="#0f5596"/>
<circle cx="210.99" cy="84.49" r="1.05" fill="#0f5596"/>
<circle cx="210.17" cy="76.75" r="1.05" fill="#0f5596"/>
<circle cx="211.99" cy="110.33" r="1.05" fill="#0f5596"/>
<circle cx="210.91" cy="70.08" r="1.05" fill="#0f5596"/>
<circle cx="208.60" cy="75.76" r="1.05" fill="#0f5596"/>
<circle cx="210.16" cy="114.47" r="1.05" fill="#0f5596"/>
<circle cx="208.60" cy="83.91" r="1.05" fill="#0f5596"/>
<circle cx="208.60" cy="87.87" r="1.05" fill="#0f5596"/>
<circle cx="213.20" cy="98.28" r="1.05" fill="#0f5596"/>
<circle cx="209.82" cy="87.31" r="1.05" fill="#0f5596"/>
<circle cx="211.43" cy="72.32" r="1.05" fill="#0f5596"/>
<circle cx="211.52" cy="74.88" r="1.05" fill="#0f5596"/>
<circle cx="209.84" cy="114.91" r="1.05" fill="#0f5596"/>
<circle cx="210.72" cy="81.97" r="1.05" fill="#0f5596"/>
<circle cx="212.69" cy="79.11" r="1.05" fill="#0f5596"/>
<circle cx="213.20" cy="87.92" r="1.05" fill="#0f5596"/>
<circle cx="210.05" cy="108.97" r="1.05" fill="#0f5596"/>
<circle cx="213.20" cy="100.28" r="1.05" fill="#0f5596"/>
<circle cx="209.05" cy="96.36" r="1.05" fill="#0f5596"/>
<circle cx="213.20" cy="104.54" r="1.05" fill="#0f5596"/>
<circle cx="211.64" cy="91.64" r="1.05" fill="#0f5596"/>
<circle cx="210.14" cy="106.13" r="1.05" fill="#0f5596"/>
<circle cx="209.93" cy="72.35" r="1.05" fill="#0f5596"/>
<circle cx="212.08" cy="114.49" r="1.05" fill="#0f5596"/>
<circle cx="212.12" cy="86.50" r="1.05" fill="#0f5596"/>
<circle cx="210.62" cy="84.29" r="1.05" fill="#0f5596"/>
<circle cx="208.60" cy="82.49" r="1.05" fill="#0f5596"/>
<circle cx="210.30" cy="101.49" r="1.05" fill="#0f5596"/>
<circle cx="212.72" cy="88.93" r="1.05" fill="#0f5596"/>
<circle cx="211.44" cy="78.03" r="1.05" fill="#0f5596"/>
<circle cx="211.77" cy="113.49" r="1.05" fill="#0f5596"/>
<circle cx="211.51" cy="93.86" r="1.05" fill="#0f5596"/>
<circle cx="213.20" cy="117.83" r="1.05" fill="#0f5596"/>
<circle cx="211.53" cy="91.60" r="1.05" fill="#0f5596"/>
<circle cx="211.65" cy="74.35" r="1.05" fill="#0f5596"/>
<circle cx="211.83" cy="86.41" r="1.05" fill="#0f5596"/>
<circle cx="211.50" cy="82.40" r="1.05" fill="#0f5596"/>
<circle cx="212.80" cy="97.34" r="1.05" fill="#0f5596"/>
<circle cx="209.28" cy="89.81" r="1.05" fill="#0f5596"/>
<circle cx="209.46" cy="89.87" r="1.05" fill="#0f5596"/>
<circle cx="210.68" cy="86.23" r="1.05" fill="#0f5596"/>
<circle cx="210.22" cy="72.98" r="1.05" fill="#0f5596"/>
<circle cx="213.20" cy="76.04" r="1.05" fill="#0f5596"/>
<circle cx="208.85" cy="94.16" r="1.05" fill="#0f5596"/>
<circle cx="208.73" cy="80.37" r="1.05" fill="#0f5596"/>
<circle cx="210.91" cy="83.01" r="1.05" fill="#0f5596"/>
<circle cx="212.42" cy="91.40" r="1.05" fill="#0f5596"/>
<circle cx="212.67" cy="115.79" r="1.05" fill="#0f5596"/>
<circle cx="208.60" cy="71.05" r="1.05" fill="#0f5596"/>
<circle cx="210.10" cy="71.55" r="1.05" fill="#0f5596"/>
<circle cx="208.60" cy="92.72" r="1.05" fill="#0f5596"/>
<circle cx="212.40" cy="98.18" r="1.05" fill="#0f5596"/>
<circle cx="210.90" cy="114.49" r="1.05" fill="#0f5596"/>
<circle cx="213.20" cy="109.63" r="1.05" fill="#0f5596"/>
<circle cx="208.60" cy="81.93" r="1.05" fill="#0f5596"/>
<circle cx="211.93" cy="75.23" r="1.05" fill="#0f5596"/>
<circle cx="212.40" cy="102.74" r="1.05" fill="#0f5596"/>
<circle cx="210.52" cy="115.19" r="1.05" fill="#0f5596"/>
<circle cx="208.77" cy="106.71" r="1.05" fill="#0f5596"/>
<circle cx="210.50" cy="91.95" r="1.05" fill="#0f5596"/>
<circle cx="210.76" cy="107.55" r="1.05" fill="#0f5596"/>
<circle cx="212.79" cy="81.16" r="1.05" fill="#0f5596"/>
<circle cx="209.86" cy="84.58" r="1.05" fill="#0f5596"/>
<circle cx="210.88" cy="76.14" r="1.05" fill="#0f5596"/>
<circle cx="213.03" cy="103.53" r="1.05" fill="#0f5596"/>
<circle cx="212.55" cy="75.38" r="1.05" fill="#0f5596"/>
<circle cx="211.68" cy="97.98" r="1.05" fill="#0f5596"/>
<circle cx="211.24" cy="88.63" r="1.05" fill="#0f5596"/>
<circle cx="212.91" cy="70.50" r="1.05" fill="#0f5596"/>
<circle cx="208.60" cy="84.47" r="1.05" fill="#0f5596"/>
<circle cx="211.83" cy="100.94" r="1.05" fill="#0f5596"/>
<circle cx="209.82" cy="112.42" r="1.05" fill="#0f5596"/>
<circle cx="211.07" cy="81.86" r="1.05" fill="#0f5596"/>
<circle cx="210.54" cy="116.11" r="1.05" fill="#0f5596"/>
<circle cx="209.67" cy="71.05" r="1.05" fill="#0f5596"/>
<circle cx="210.18" cy="93.92" r="1.05" fill="#0f5596"/>
<circle cx="209.51" cy="82.35" r="1.05" fill="#0f5596"/>
<circle cx="211.86" cy="102.03" r="1.05" fill="#0f5596"/>
<circle cx="210.41" cy="71.64" r="1.05" fill="#0f5596"/>
<circle cx="208.90" cy="86.23" r="1.05" fill="#0f5596"/>
<circle cx="211.99" cy="79.51" r="1.05" fill="#0f5596"/>
<circle cx="210.78" cy="108.26" r="1.05" fill="#0f5596"/>
<circle cx="209.13" cy="79.85" r="1.05" fill="#0f5596"/>
<circle cx="209.85" cy="116.55" r="1.05" fill="#0f5596"/>
<circle cx="213.20" cy="81.08" r="1.05" fill="#0f5596"/>
<circle cx="210.98" cy="80.63" r="1.05" fill="#0f5596"/>
<circle cx="209.65" cy="115.69" r="1.05" fill="#0f5596"/>
<circle cx="211.31" cy="93.80" r="1.05" fill="#0f5596"/>
<circle cx="211.88" cy="90.02" r="1.05" fill="#0f5596"/>
<circle cx="211.70" cy="101.93" r="1.05" fill="#0f5596"/>
<circle cx="210.63" cy="88.89" r="1.05" fill="#0f5596"/>
<circle cx="211.72" cy="80.22" r="1.05" fill="#0f5596"/>
<circle cx="210.77" cy="72.49" r="1.05" fill="#0f5596"/>
<circle cx="208.60" cy="72.89" r="1.05" fill="#0f5596"/>
<circle cx="212.89" cy="112.41" r="1.05" fill="#0f5596"/>
<circle cx="213.20" cy="105.17" r="1.05" fill="#0f5596"/>
<circle cx="210.85" cy="85.80" r="1.05" fill="#0f5596"/>
<circle cx="213.19" cy="78.90" r="1.05" fill="#0f5596"/>
<circle cx="209.93" cy="71.53" r="1.05" fill="#0f5596"/>
<circle cx="209.85" cy="101.89" r="1.05" fill="#0f5596"/>
<circle cx="211.90" cy="85.92" r="1.05" fill="#0f5596"/>
<circle cx="212.12" cy="78.12" r="1.05" fill="#0f5596"/>
<circle cx="210.92" cy="86.87" r="1.05" fill="#0f5596"/>
<circle cx="213.20" cy="115.86" r="1.05" fill="#0f5596"/>
<circle cx="213.20" cy="79.96" r="1.05" fill="#0f5596"/>
<circle cx="212.11" cy="87.12" r="1.05" fill="#0f5596"/>
<circle cx="208.60" cy="90.76" r="1.05" fill="#0f5596"/>
<circle cx="209.47" cy="72.36" r="1.05" fill="#0f5596"/>
<circle cx="211.14" cy="114.14" r="1.05" fill="#0f5596"/>
<circle cx="208.80" cy="79.27" r="1.05" fill="#0f5596"/>
<circle cx="213.20" cy="71.45" r="1.05" fill="#0f5596"/>
<circle cx="211.87" cy="89.72" r="1.05" fill="#0f5596"/>
<circle cx="208.60" cy="71.95" r="1.05" fill="#0f5596"/>
<circle cx="213.20" cy="71.67" r="1.05" fill="#0f5596"/>
<circle cx="212.19" cy="82.34" r="1.05" fill="#0f5596"/>
<circle cx="212.00" cy="105.87" r="1.05" fill="#0f5596"/>
<circle cx="210.09" cy="83.07" r="1.05" fill="#0f5596"/>
<circle cx="210.03" cy="115.97" r="1.05" fill="#0f5596"/>
<circle cx="210.12" cy="104.40" r="1.05" fill="#0f5596"/>
<circle cx="210.88" cy="85.19" r="1.05" fill="#0f5596"/>
<circle cx="211.03" cy="106.27" r="1.05" fill="#0f5596"/>
<circle cx="208.60" cy="113.99" r="1.05" fill="#0f5596"/>
<circle cx="208.60" cy="71.16" r="1.05" fill="#0f5596"/>
<circle cx="208.60" cy="81.23" r="1.05" fill="#0f5596"/>
<circle cx="211.48" cy="115.79" r="1.05" fill="#0f5596"/>
<circle cx="210.89" cy="88.55" r="1.05" fill="#0f5596"/>
<circle cx="212.49" cy="93.69" r="1.05" fill="#0f5596"/>
<circle cx="212.01" cy="114.55" r="1.05" fill="#0f5596"/>
<circle cx="213.20" cy="105.45" r="1.05" fill="#0f5596"/>
<circle cx="211.19" cy="109.49" r="1.05" fill="#0f5596"/>
<circle cx="208.87" cy="85.73" r="1.05" fill="#0f5596"/>
<circle cx="209.21" cy="85.34" r="1.05" fill="#0f5596"/>
<circle cx="212.90" cy="73.79" r="1.05" fill="#0f5596"/>
<circle cx="210.92" cy="79.47" r="1.05" fill="#0f5596"/>
<circle cx="209.77" cy="73.11" r="1.05" fill="#0f5596"/>
<circle cx="209.64" cy="71.63" r="1.05" fill="#0f5596"/>
<circle cx="210.47" cy="117.05" r="1.05" fill="#0f5596"/>
<circle cx="212.07" cy="112.41" r="1.05" fill="#0f5596"/>
<circle cx="210.81" cy="74.04" r="1.05" fill="#0f5596"/>
<circle cx="208.60" cy="74.63" r="1.05" fill="#0f5596"/>
<circle cx="210.92" cy="91.45" r="1.05" fill="#0f5596"/>
<circle cx="209.09" cy="81.24" r="1.05" fill="#0f5596"/>
<circle cx="211.94" cy="102.36" r="1.05" fill="#0f5596"/>
<circle cx="212.17" cy="105.90" r="1.05" fill="#0f5596"/>
<circle cx="209.08" cy="75.82" r="1.05" fill="#0f5596"/>
<circle cx="210.37" cy="110.36" r="1.05" fill="#0f5596"/>
<circle cx="212.77" cy="87.90" r="1.05" fill="#0f5596"/>
<circle cx="211.25" cy="105.43" r="1.05" fill="#0f5596"/>
<circle cx="211.97" cy="81.78" r="1.05" fill="#0f5596"/>
<circle cx="212.37" cy="77.36" r="1.05" fill="#0f5596"/>
<circle cx="209.59" cy="85.66" r="1.05" fill="#0f5596"/>
<circle cx="212.68" cy="89.01" r="1.05" fill="#0f5596"/>
<circle cx="210.82" cy="81.11" r="1.05" fill="#0f5596"/>
<circle cx="208.60" cy="108.81" r="1.05" fill="#0f5596"/>
<circle cx="208.60" cy="74.91" r="1.05" fill="#0f5596"/>
<circle cx="212.11" cy="92.79" r="1.05" fill="#0f5596"/>
<circle cx="208.60" cy="113.89" r="1.05" fill="#0f5596"/>
<circle cx="210.70" cy="71.94" r="1.05" fill="#0f5596"/>
<circle cx="211.63" cy="79.10" r="1.05" fill="#0f5596"/>
<circle cx="208.60" cy="116.70" r="1.05" fill="#0f5596"/>
<circle cx="209.17" cy="87.87" r="1.05" fill="#0f5596"/>
<circle cx="209.80" cy="111.57" r="1.05" fill="#0f5596"/>
<circle cx="211.27" cy="107.33" r="1.05" fill="#0f5596"/>
<circle cx="212.49" cy="115.39" r="1.05" fill="#0f5596"/>
<circle cx="212.15" cy="99.76" r="1.05" fill="#0f5596"/>
<circle cx="210.34" cy="80.45" r="1.05" fill="#0f5596"/>
<circle cx="211.51" cy="79.79" r="1.05" fill="#0f5596"/>
<circle cx="209.13" cy="82.24" r="1.05" fill="#0f5596"/>
<circle cx="209.63" cy="79.77" r="1.05" fill="#0f5596"/>
<circle cx="209.85" cy="70.55" r="1.05" fill="#0f5596"/>
<circle cx="212.90" cy="78.89" r="1.05" fill="#0f5596"/>
<circle cx="211.67" cy="84.99" r="1.05" fill="#0f5596"/>
<circle cx="213.20" cy="96.31" r="1.05" fill="#0f5596"/>
<circle cx="212.11" cy="73.04" r="1.05" fill="#0f5596"/>
<circle cx="211.79" cy="96.41" r="1.05" fill="#0f5596"/>
<circle cx="211.65" cy="100.68" r="1.05" fill="#0f5596"/>
<circle cx="211.39" cy="103.38" r="1.05" fill="#0f5596"/>
<circle cx="210.63" cy="89.67" r="1.05" fill="#0f5596"/>
<circle cx="212.16" cy="115.75" r="1.05" fill="#0f5596"/>
<circle cx="209.61" cy="84.99" r="1.05" fill="#0f5596"/>
<circle cx="210.33" cy="122.21" r="1.05" fill="#cc0f32"/>
<circle cx="212.33" cy="127.80" r="1.05" fill="#cc0f32"/>
<circle cx="210.87" cy="119.47" r="1.05" fill="#cc0f32"/>
<circle cx="210.95" cy="126.10" r="1.05" fill="#cc0f32"/>
<circle cx="211.06" cy="128.27" r="1.05" fill="#cc0f32"/>
<circle cx="211.56" cy="122.30" r="1.05" fill="#cc0f32"/>
<circle cx="209.52" cy="128.04" r="1.05" fill="#cc0f32"/>
<circle cx="211.04" cy="122.76" r="1.05" fill="#cc0f32"/>
<circle cx="211.12" cy="123.89" r="1.05" fill="#cc0f32"/>
<circle cx="211.45" cy="125.01" r="1.05" fill="#cc0f32"/>
<circle cx="210.55" cy="124.78" r="1.05" fill="#cc0f32"/>
<circle cx="210.06" cy="121.64" r="1.05" fill="#cc0f32"/>
<circle cx="210.88" cy="120.54" r="1.05" fill="#cc0f32"/>
<circle cx="211.54" cy="123.51" r="1.05" fill="#cc0f32"/>
<circle cx="210.58" cy="123.13" r="1.05" fill="#cc0f32"/>
<circle cx="211.87" cy="127.06" r="1.05" fill="#cc0f32"/>
<circle cx="210.69" cy="118.58" r="1.05" fill="#cc0f32"/>
<circle cx="212.60" cy="128.79" r="1.05" fill="#cc0f32"/>
<circle cx="210.64" cy="117.67" r="1.05" fill="#cc0f32"/>
<circle cx="208.60" cy="128.58" r="1.05" fill="#cc0f32"/>
<circle cx="213.00" cy="124.75" r="1.05" fill="#cc0f32"/>
<circle cx="212.31" cy="127.31" r="1.05" fill="#cc0f32"/>
<circle cx="213.13" cy="119.78" r="1.05" fill="#cc0f32"/>
<circle cx="212.50" cy="122.06" r="1.05" fill="#cc0f32"/>
<circle cx="208.60" cy="119.29" r="1.05" fill="#cc0f32"/>
<circle cx="209.44" cy="119.73" r="1.05" fill="#cc0f32"/>
<circle cx="211.97" cy="121.79" r="1.05" fill="#cc0f32"/>
<circle cx="210.94" cy="118.54" r="1.05" fill="#cc0f32"/>
<circle cx="213.20" cy="128.22" r="1.05" fill="#cc0f32"/>
<circle cx="208.60" cy="117.51" r="1.05" fill="#cc0f32"/>
<circle cx="209.94" cy="117.48" r="1.05" fill="#cc0f32"/>
<circle cx="212.40" cy="127.48" r="1.05" fill="#cc0f32"/>
<circle cx="212.27" cy="123.88" r="1.05" fill="#cc0f32"/>
<circle cx="210.36" cy="124.84" r="1.05" fill="#cc0f32"/>
<circle cx="212.37" cy="124.28" r="1.05" fill="#cc0f32"/>
<circle cx="210.02" cy="122.32" r="1.05" fill="#cc0f32"/>
<circle cx="209.53" cy="122.48" r="1.05" fill="#cc0f32"/>
<circle cx="209.62" cy="117.29" r="1.05" fill="#cc0f32"/>
<circle cx="209.72" cy="119.94" r="1.05" fill="#cc0f32"/>
<circle cx="211.21" cy="126.54" r="1.05" fill="#cc0f32"/>
<circle cx="209.27" cy="119.24" r="1.05" fill="#cc0f32"/>
<circle cx="211.52" cy="122.92" r="1.05" fill="#cc0f32"/>
<circle cx="211.39" cy="122.38" r="1.05" fill="#cc0f32"/>
<circle cx="209.23" cy="118.15" r="1.05" fill="#cc0f32"/>
<circle cx="211.54" cy="117.51" r="1.05" fill="#cc0f32"/>
<circle cx="213.02" cy="124.96" r="1.05" fill="#cc0f32"/>
<circle cx="212.11" cy="126.72" r="1.05" fill="#cc0f32"/>
<circle cx="212.57" cy="123.39" r="1.05" fill="#cc0f32"/>
<circle cx="211.49" cy="121.72" r="1.05" fill="#cc0f32"/>
<circle cx="212.84" cy="128.89" r="1.05" fill="#cc0f32"/>
<circle cx="213.13" cy="129.45" r="1.05" fill="#cc0f32"/>
<circle cx="211.29" cy="126.15" r="1.05" fill="#cc0f32"/>
<circle cx="210.00" cy="129.27" r="1.05" fill="#cc0f32"/>
<circle cx="213.20" cy="123.15" r="1.05" fill="#cc0f32"/>
<circle cx="210.00" cy="119.06" r="1.05" fill="#cc0f32"/>
<circle cx="211.40" cy="126.85" r="1.05" fill="#cc0f32"/>
<circle cx="210.67" cy="121.39" r="1.05" fill="#cc0f32"/>
<circle cx="212.63" cy="126.45" r="1.05" fill="#cc0f32"/>
<circle cx="213.20" cy="120.44" r="1.05" fill="#cc0f32"/>
<circle cx="212.00" cy="127.20" r="1.05" fill="#cc0f32"/>
<circle cx="212.29" cy="128.50" r="1.05" fill="#cc0f32"/>
<circle cx="210.76" cy="119.60" r="1.05" fill="#cc0f32"/>
<circle cx="212.68" cy="120.99" r="1.05" fill="#cc0f32"/>
<circle cx="211.27" cy="117.46" r="1.05" fill="#cc0f32"/>
<circle cx="211.71" cy="128.71" r="1.05" fill="#cc0f32"/>
<circle cx="211.62" cy="125.50" r="1.05" fill="#cc0f32"/>
<circle cx="210.34" cy="126.81" r="1.05" fill="#cc0f32"/>
<circle cx="208.81" cy="118.44" r="1.05" fill="#cc0f32"/>
<circle cx="210.49" cy="121.50" r="1.05" fill="#cc0f32"/>
<circle cx="209.04" cy="127.91" r="1.05" fill="#cc0f32"/>
<circle cx="210.23" cy="128.03" r="1.05" fill="#cc0f32"/>
<circle cx="213.01" cy="118.31" r="1.05" fill="#cc0f32"/>
<circle cx="210.81" cy="121.93" r="1.05" fill="#cc0f32"/>
<circle cx="210.48" cy="126.97" r="1.05" fill="#cc0f32"/>
<circle cx="213.20" cy="124.22" r="1.05" fill="#cc0f32"/>
<circle cx="211.05" cy="121.50" r="1.05" fill="#cc0f32"/>
<circle cx="209.29" cy="119.21" r="1.05" fill="#cc0f32"/>
<circle cx="213.20" cy="126.29" r="1.05" fill="#cc0f32"/>
<circle cx="211.73" cy="120.17" r="1.05" fill="#cc0f32"/>
<circle cx="212.88" cy="124.99" r="1.05" fill="#cc0f32"/>
<circle cx="210.70" cy="125.30" r="1.05" fill="#cc0f32"/>
<circle cx="211.29" cy="120.91" r="1.05" fill="#cc0f32"/>
<circle cx="210.90" cy="118.87" r="1.05" fill="#cc0f32"/>
<circle cx="209.26" cy="124.70" r="1.05" fill="#cc0f32"/>
<circle cx="211.64" cy="128.19" r="1.05" fill="#cc0f32"/>
<circle cx="211.21" cy="118.65" r="1.05" fill="#cc0f32"/>
<circle cx="213.06" cy="117.28" r="1.05" fill="#cc0f32"/>
<circle cx="210.46" cy="117.03" r="1.05" fill="#cc0f32"/>
<circle cx="211.46" cy="121.46" r="1.05" fill="#cc0f32"/>
<circle cx="209.17" cy="119.80" r="1.05" fill="#cc0f32"/>
<circle cx="211.00" cy="130.60" r="0.95" fill="#cc0f32"/>
<circle cx="210.20" cy="132.00" r="0.95" fill="#cc0f32"/>
<circle cx="212.20" cy="133.60" r="0.95" fill="#cc0f32"/>
<circle cx="211.00" cy="135.30" r="0.95" fill="#cc0f32"/>
<circle cx="256.50" cy="69.60" r="1.05" fill="#0f5596"/>
<circle cx="254.50" cy="72.50" r="1.05" fill="#0f5596"/>
<circle cx="257.00" cy="74.80" r="1.05" fill="#0f5596"/>
<circle cx="255.80" cy="77.00" r="1.05" fill="#0f5596"/>
<circle cx="257.60" cy="78.80" r="1.05" fill="#0f5596"/>
<circle cx="256.52" cy="87.98" r="0.95" fill="#0f5596"/>
<circle cx="255.31" cy="112.09" r="0.95" fill="#0f5596"/>
<circle cx="256.90" cy="97.01" r="0.95" fill="#0f5596"/>
<circle cx="256.34" cy="92.52" r="0.95" fill="#0f5596"/>
<circle cx="254.30" cy="100.34" r="0.95" fill="#0f5596"/>
<circle cx="254.71" cy="98.44" r="0.95" fill="#0f5596"/>
<circle cx="256.20" cy="95.84" r="0.95" fill="#0f5596"/>
<circle cx="254.68" cy="86.54" r="0.95" fill="#0f5596"/>
<circle cx="257.51" cy="85.81" r="0.95" fill="#0f5596"/>
<circle cx="255.90" cy="105.77" r="0.95" fill="#0f5596"/>
<circle cx="256.32" cy="86.98" r="0.95" fill="#0f5596"/>
<circle cx="254.70" cy="93.95" r="0.95" fill="#0f5596"/>
<circle cx="256.03" cy="93.59" r="0.95" fill="#0f5596"/>
<circle cx="256.04" cy="100.15" r="0.95" fill="#0f5596"/>
<circle cx="253.50" cy="94.14" r="0.95" fill="#0f5596"/>
<circle cx="256.54" cy="87.02" r="0.95" fill="#0f5596"/>
<circle cx="254.80" cy="102.24" r="0.95" fill="#0f5596"/>
<circle cx="254.50" cy="87.04" r="0.95" fill="#0f5596"/>
<circle cx="257.00" cy="100.71" r="0.95" fill="#0f5596"/>
<circle cx="256.39" cy="94.82" r="0.95" fill="#0f5596"/>
<circle cx="254.54" cy="112.11" r="0.95" fill="#0f5596"/>
<circle cx="255.86" cy="95.71" r="0.95" fill="#0f5596"/>
<circle cx="254.22" cy="107.10" r="0.95" fill="#0f5596"/>
<circle cx="255.11" cy="100.28" r="0.95" fill="#0f5596"/>
<circle cx="256.75" cy="98.53" r="0.95" fill="#0f5596"/>
<circle cx="257.14" cy="101.36" r="0.95" fill="#0f5596"/>
<circle cx="256.00" cy="98.62" r="0.95" fill="#0f5596"/>
<circle cx="254.31" cy="106.67" r="0.95" fill="#0f5596"/>
<circle cx="257.64" cy="94.47" r="0.95" fill="#0f5596"/>
<circle cx="254.99" cy="104.27" r="0.95" fill="#0f5596"/>
<circle cx="253.89" cy="94.63" r="0.95" fill="#0f5596"/>
<circle cx="258.50" cy="101.09" r="0.95" fill="#0f5596"/>
<circle cx="256.10" cy="105.28" r="0.95" fill="#0f5596"/>
<circle cx="258.14" cy="97.73" r="0.95" fill="#0f5596"/>
<circle cx="255.27" cy="114.68" r="0.95" fill="#0f5596"/>
<circle cx="258.37" cy="84.52" r="0.95" fill="#0f5596"/>
<circle cx="256.85" cy="91.80" r="0.95" fill="#0f5596"/>
<circle cx="254.99" cy="110.16" r="0.95" fill="#0f5596"/>
<circle cx="254.20" cy="89.76" r="0.95" fill="#0f5596"/>
<circle cx="255.81" cy="109.39" r="0.95" fill="#0f5596"/>
<circle cx="254.30" cy="105.92" r="0.95" fill="#0f5596"/>
<circle cx="254.91" cy="104.05" r="0.95" fill="#0f5596"/>
<circle cx="254.33" cy="93.52" r="0.95" fill="#0f5596"/>
<circle cx="256.84" cy="93.06" r="0.95" fill="#0f5596"/>
<circle cx="255.64" cy="92.53" r="0.95" fill="#0f5596"/>
<circle cx="255.61" cy="101.68" r="0.95" fill="#0f5596"/>
<circle cx="256.10" cy="101.62" r="0.95" fill="#0f5596"/>
<circle cx="255.48" cy="105.95" r="0.95" fill="#0f5596"/>
<circle cx="256.24" cy="97.82" r="0.95" fill="#0f5596"/>
<circle cx="256.52" cy="113.80" r="0.95" fill="#0f5596"/>
<circle cx="254.50" cy="83.64" r="0.95" fill="#0f5596"/>
<circle cx="255.52" cy="95.63" r="0.95" fill="#0f5596"/>
<circle cx="255.33" cy="86.39" r="0.95" fill="#0f5596"/>
<circle cx="253.81" cy="105.15" r="0.95" fill="#0f5596"/>
<circle cx="255.70" cy="99.44" r="0.95" fill="#0f5596"/>
<circle cx="253.87" cy="113.94" r="0.95" fill="#0f5596"/>
<circle cx="255.79" cy="101.37" r="0.95" fill="#0f5596"/>
<circle cx="256.61" cy="97.61" r="0.95" fill="#0f5596"/>
<circle cx="256.70" cy="101.00" r="0.95" fill="#0f5596"/>
<circle cx="256.83" cy="80.26" r="0.95" fill="#0f5596"/>
<circle cx="255.86" cy="80.89" r="0.95" fill="#0f5596"/>
<circle cx="257.79" cy="101.35" r="0.95" fill="#0f5596"/>
<circle cx="256.32" cy="107.65" r="0.95" fill="#0f5596"/>
<circle cx="255.76" cy="106.10" r="0.95" fill="#0f5596"/>
<circle cx="255.96" cy="97.14" r="0.95" fill="#0f5596"/>
<circle cx="255.73" cy="105.77" r="0.95" fill="#0f5596"/>
<circle cx="254.56" cy="84.77" r="0.95" fill="#0f5596"/>
<circle cx="255.76" cy="95.45" r="0.95" fill="#0f5596"/>
<circle cx="254.81" cy="93.96" r="0.95" fill="#0f5596"/>
<circle cx="256.17" cy="102.69" r="0.95" fill="#0f5596"/>
<circle cx="255.55" cy="85.04" r="0.95" fill="#0f5596"/>
<circle cx="256.54" cy="81.69" r="0.95" fill="#0f5596"/>
<circle cx="257.30" cy="114.69" r="0.95" fill="#0f5596"/>
<circle cx="256.06" cy="96.29" r="0.95" fill="#0f5596"/>
<circle cx="258.10" cy="102.04" r="0.95" fill="#0f5596"/>
<circle cx="255.98" cy="97.11" r="0.95" fill="#0f5596"/>
<circle cx="253.86" cy="122.24" r="1.05" fill="#cc0f32"/>
<circle cx="256.11" cy="118.66" r="1.05" fill="#cc0f32"/>
<circle cx="254.70" cy="122.29" r="1.05" fill="#cc0f32"/>
<circle cx="257.86" cy="119.55" r="1.05" fill="#cc0f32"/>
<circle cx="255.82" cy="127.54" r="1.05" fill="#cc0f32"/>
<circle cx="256.82" cy="124.68" r="1.05" fill="#cc0f32"/>
<circle cx="257.32" cy="122.33" r="1.05" fill="#cc0f32"/>
<circle cx="257.09" cy="117.45" r="1.05" fill="#cc0f32"/>
<circle cx="255.31" cy="125.72" r="1.05" fill="#cc0f32"/>
<circle cx="299.60" cy="62.20" r="1.05" fill="#0f5596"/>
<circle cx="299.50" cy="65.80" r="1.05" fill="#0f5596"/>
<circle cx="300.00" cy="66.30" r="1.05" fill="#0f5596"/>
<circle cx="300.19" cy="75.45" r="1.05" fill="#0f5596"/>
<circle cx="301.70" cy="74.29" r="1.05" fill="#0f5596"/>
<circle cx="300.68" cy="82.29" r="1.05" fill="#0f5596"/>
<circle cx="300.83" cy="81.21" r="1.05" fill="#0f5596"/>
<circle cx="301.90" cy="81.49" r="1.05" fill="#0f5596"/>
<circle cx="300.18" cy="86.72" r="1.05" fill="#0f5596"/>
<circle cx="302.71" cy="69.45" r="1.05" fill="#0f5596"/>
<circle cx="302.33" cy="80.80" r="1.05" fill="#0f5596"/>
<circle cx="301.03" cy="77.69" r="1.05" fill="#0f5596"/>
<circle cx="300.38" cy="69.91" r="1.05" fill="#0f5596"/>
<circle cx="302.29" cy="85.07" r="1.05" fill="#0f5596"/>
<circle cx="299.96" cy="91.16" r="1.05" fill="#0f5596"/>
<circle cx="301.62" cy="70.19" r="1.05" fill="#0f5596"/>
<circle cx="301.23" cy="86.58" r="1.05" fill="#0f5596"/>
<circle cx="301.94" cy="70.89" r="1.05" fill="#0f5596"/>
<circle cx="301.66" cy="85.55" r="1.05" fill="#0f5596"/>
<circle cx="301.36" cy="76.59" r="1.05" fill="#0f5596"/>
<circle cx="300.33" cy="85.53" r="1.05" fill="#0f5596"/>
<circle cx="301.58" cy="82.30" r="1.05" fill="#0f5596"/>
<circle cx="302.07" cy="80.09" r="1.05" fill="#0f5596"/>
<circle cx="300.90" cy="75.89" r="1.05" fill="#0f5596"/>
<circle cx="301.69" cy="77.86" r="1.05" fill="#0f5596"/>
<circle cx="300.70" cy="91.17" r="1.05" fill="#0f5596"/>
<circle cx="301.95" cy="90.70" r="1.05" fill="#0f5596"/>
<circle cx="303.12" cy="84.11" r="1.05" fill="#0f5596"/>
<circle cx="300.87" cy="78.74" r="1.05" fill="#0f5596"/>
<circle cx="301.57" cy="72.56" r="1.05" fill="#0f5596"/>
<circle cx="301.64" cy="89.41" r="1.05" fill="#0f5596"/>
<circle cx="300.76" cy="82.96" r="1.05" fill="#0f5596"/>
<circle cx="299.29" cy="81.19" r="1.05" fill="#0f5596"/>
<circle cx="300.51" cy="87.34" r="1.05" fill="#0f5596"/>
<circle cx="300.10" cy="72.27" r="1.05" fill="#0f5596"/>
<circle cx="302.03" cy="74.23" r="1.05" fill="#0f5596"/>
<circle cx="299.37" cy="87.41" r="1.05" fill="#0f5596"/>
<circle cx="302.07" cy="86.48" r="1.05" fill="#0f5596"/>
<circle cx="299.22" cy="75.94" r="1.05" fill="#0f5596"/>
<circle cx="300.24" cy="74.78" r="1.05" fill="#0f5596"/>
<circle cx="300.57" cy="82.40" r="1.05" fill="#0f5596"/>
<circle cx="299.16" cy="81.64" r="1.05" fill="#0f5596"/>
<circle cx="299.55" cy="86.34" r="1.05" fill="#0f5596"/>
<circle cx="302.20" cy="93.00" r="1.05" fill="#0f5596"/>
<circle cx="298.80" cy="95.20" r="1.05" fill="#0f5596"/>
<circle cx="302.50" cy="96.00" r="1.05" fill="#0f5596"/>
<circle cx="299.50" cy="98.50" r="1.05" fill="#0f5596"/>
<circle cx="301.80" cy="99.00" r="1.05" fill="#0f5596"/>
<circle cx="303.00" cy="100.20" r="1.05" fill="#0f5596"/>
<circle cx="300.00" cy="100.60" r="1.05" fill="#0f5596"/>
<circle cx="302.60" cy="101.60" r="1.05" fill="#0f5596"/>
<circle cx="300.80" cy="108.30" r="1.05" fill="#0f5596"/>
<circle cx="299.90" cy="109.80" r="1.1" fill="#cc0f32"/>
<circle cx="303.40" cy="123.80" r="1.1" fill="#cc0f32"/>
<circle cx="335.1" cy="79.1" r="2.1" fill="#1f5a96"/>
<circle cx="335.1" cy="90.6" r="2.1" fill="#c8102e"/>
<text x="339.80" y="81.70" font-size="7" text-anchor="start" fill="#000000" stroke="#000000" stroke-width="0.2" font-weight="normal" font-style="normal" >Present</text>
<text x="339.80" y="93.20" font-size="7" text-anchor="start" fill="#000000" stroke="#000000" stroke-width="0.2" font-weight="normal" font-style="normal" >Absent</text>
<text x="7.80" y="209.30" font-size="11" text-anchor="start" fill="#000" font-weight="bold" font-style="normal" >B</text>
<text x="143.40" y="214.00" font-size="8.85" text-anchor="middle" fill="#000000" stroke="#000000" stroke-width="0.2" font-weight="normal" font-style="normal" >Lenalidomide maintenance</text>
<line x1="56.10" y1="227.80" x2="56.10" y2="316.00" stroke="#4a4a4a" stroke-width="1.5" />
<line x1="55.40" y1="315.40" x2="230.70" y2="315.40" stroke="#1c1c1c" stroke-width="1.3" />
<line x1="52.90" y1="314.60" x2="56.10" y2="314.60" stroke="#333333" stroke-width="1" />
<text x="48.90" y="317.35" font-size="7.9" text-anchor="end" fill="#000000" stroke="#000000" stroke-width="0.2" font-weight="normal" font-style="normal" >0</text>
<line x1="52.90" y1="298.34" x2="56.10" y2="298.34" stroke="#333333" stroke-width="1" />
<text x="48.90" y="301.09" font-size="7.9" text-anchor="end" fill="#000000" stroke="#000000" stroke-width="0.2" font-weight="normal" font-style="normal" >20</text>
<line x1="52.90" y1="282.08" x2="56.10" y2="282.08" stroke="#333333" stroke-width="1" />
<text x="48.90" y="284.83" font-size="7.9" text-anchor="end" fill="#000000" stroke="#000000" stroke-width="0.2" font-weight="normal" font-style="normal" >40</text>
<line x1="52.90" y1="265.82" x2="56.10" y2="265.82" stroke="#333333" stroke-width="1" />
<text x="48.90" y="268.57" font-size="7.9" text-anchor="end" fill="#000000" stroke="#000000" stroke-width="0.2" font-weight="normal" font-style="normal" >60</text>
<line x1="52.90" y1="249.56" x2="56.10" y2="249.56" stroke="#333333" stroke-width="1" />
<text x="48.90" y="252.31" font-size="7.9" text-anchor="end" fill="#000000" stroke="#000000" stroke-width="0.2" font-weight="normal" font-style="normal" >80</text>
<line x1="52.90" y1="233.30" x2="56.10" y2="233.30" stroke="#333333" stroke-width="1" />
<text x="48.90" y="236.05" font-size="7.9" text-anchor="end" fill="#000000" stroke="#000000" stroke-width="0.2" font-weight="normal" font-style="normal" >100</text>
<line x1="56.10" y1="315.40" x2="56.10" y2="318.20" stroke="#333333" stroke-width="1" />
<text x="56.10" y="327.90" font-size="8.1" text-anchor="middle" fill="#000000" stroke="#000000" stroke-width="0.2" font-weight="normal" font-style="normal" >0</text>
<line x1="101.40" y1="315.40" x2="101.40" y2="318.20" stroke="#333333" stroke-width="1" />
<text x="101.40" y="327.90" font-size="8.1" text-anchor="middle" fill="#000000" stroke="#000000" stroke-width="0.2" font-weight="normal" font-style="normal" >24</text>
<line x1="146.70" y1="315.40" x2="146.70" y2="318.20" stroke="#333333" stroke-width="1" />
<text x="146.70" y="327.90" font-size="8.1" text-anchor="middle" fill="#000000" stroke="#000000" stroke-width="0.2" font-weight="normal" font-style="normal" >48</text>
<line x1="192.00" y1="315.40" x2="192.00" y2="318.20" stroke="#333333" stroke-width="1" />
<text x="192.00" y="327.90" font-size="8.1" text-anchor="middle" fill="#000000" stroke="#000000" stroke-width="0.2" font-weight="normal" font-style="normal" >72</text>
<text transform="translate(30.90,270.00) rotate(-90)" font-size="9" text-anchor="middle" fill="#000000" stroke="#000000" stroke-width="0.2" textLength="25" lengthAdjust="spacingAndGlyphs">PFS [%]</text>
<text x="143.10" y="341.60" font-size="8.6" text-anchor="middle" fill="#000000" stroke="#000000" stroke-width="0.2" textLength="41.5" lengthAdjust="spacingAndGlyphs">Time [months]</text>
<text x="66.70" y="306.00" font-size="7.8" text-anchor="start" fill="#000000" stroke="#000000" stroke-width="0.2" font-weight="normal" font-style="normal" >P = .03</text>
<line x1="29.30" y1="353.80" x2="44.60" y2="353.80" stroke="#1f5a96" stroke-width="1.5" />
<line x1="29.30" y1="362.90" x2="44.60" y2="362.90" stroke="#c8102e" stroke-width="1.5" />
<text x="56.20" y="356.00" font-size="8.1" text-anchor="middle" fill="#000000" stroke="#000000" stroke-width="0.2" font-weight="normal" font-style="normal" >0</text>
<text x="108.30" y="356.00" font-size="8.1" text-anchor="end" fill="#000000" stroke="#000000" stroke-width="0.2" font-weight="normal" font-style="normal" >260</text>
<text x="153.20" y="356.00" font-size="8.1" text-anchor="end" fill="#000000" stroke="#000000" stroke-width="0.2" font-weight="normal" font-style="normal" >131</text>
<text x="196.40" y="356.00" font-size="8.1" text-anchor="end" fill="#000000" stroke="#000000" stroke-width="0.2" font-weight="normal" font-style="normal" >24</text>
<text x="56.20" y="365.40" font-size="8.1" text-anchor="middle" fill="#000000" stroke="#000000" stroke-width="0.2" font-weight="normal" font-style="normal" >0</text>
<text x="108.30" y="365.40" font-size="8.1" text-anchor="end" fill="#000000" stroke="#000000" stroke-width="0.2" font-weight="normal" font-style="normal" >40</text>
<text x="153.20" y="365.40" font-size="8.1" text-anchor="end" fill="#000000" stroke="#000000" stroke-width="0.2" font-weight="normal" font-style="normal" >22</text>
<text x="196.40" y="365.40" font-size="8.1" text-anchor="end" fill="#000000" stroke="#000000" stroke-width="0.2" font-weight="normal" font-style="normal" >3</text>
<line x1="168.00" y1="230.50" x2="183.20" y2="230.50" stroke="#1f5a96" stroke-width="1.5" />
<line x1="168.00" y1="239.70" x2="183.20" y2="239.70" stroke="#c8102e" stroke-width="1.5" />
<text x="186.00" y="233.10" font-size="7.25" fill="#000000" stroke="#000000" stroke-width="0.2"><tspan font-style="italic">MCT1</tspan> low</text>
<text x="186.00" y="242.60" font-size="7.25" fill="#000000" stroke="#000000" stroke-width="0.2"><tspan font-style="italic">MCT1</tspan> high</text>
<path d="M56.10,233.30 L80.60,233.30 H81.75 V234.70 H82.90 V236.10 H85.20 V237.25 H87.50 V238.40 H89.80 V240.70 H90.95 V242.15 H92.10 V243.60 H94.45 V244.45 H96.80 V245.30 H99.65 V246.45 H102.50 V247.60 H105.20 V248.93 H107.90 V250.27 H110.60 V251.60 H113.50 V253.05 H116.40 V254.50 H117.83 V256.23 H119.25 V257.95 H120.67 V259.67 H122.10 V261.40 H125.00 V263.15 H127.90 V264.90 H130.00 V264.80 H132.03 V266.35 H134.05 V267.90 H136.07 V269.45 H138.10 V271.00 H142.10 V271.55 H146.10 V272.10 H147.47 V273.63 H148.83 V275.17 H150.20 V276.70 H151.90 V279.00 H154.60 V279.60 H157.30 V280.20 H160.00 V280.80 H162.90 V281.95 H165.80 V283.10 H169.80 V283.95 H173.80 V284.80 H176.70 V285.95 H179.60 V287.10 H184.80 V287.95 H190.00 V288.80 H192.50 V289.30 H194.25 V290.65 H196.00 V292.00 H200.00 V294.20 H215.00 V294.60 H216.00 V295.90 H217.00 V297.20 H224.60 V297.30" fill="none" stroke="#1f5a96" stroke-width="1.35"/>
<line x1="99.00" y1="244.09" x2="99.00" y2="248.29" stroke="#1f5a96" stroke-width="1.05"/>
<line x1="102.00" y1="245.30" x2="102.00" y2="249.50" stroke="#1f5a96" stroke-width="1.05"/>
<line x1="110.00" y1="249.20" x2="110.00" y2="253.40" stroke="#1f5a96" stroke-width="1.05"/>
<line x1="127.00" y1="262.26" x2="127.00" y2="266.46" stroke="#1f5a96" stroke-width="1.05"/>
<line x1="129.00" y1="262.75" x2="129.00" y2="266.95" stroke="#1f5a96" stroke-width="1.05"/>
<line x1="131.00" y1="263.47" x2="131.00" y2="267.67" stroke="#1f5a96" stroke-width="1.05"/>
<line x1="134.00" y1="265.76" x2="134.00" y2="269.96" stroke="#1f5a96" stroke-width="1.05"/>
<line x1="136.00" y1="267.29" x2="136.00" y2="271.49" stroke="#1f5a96" stroke-width="1.05"/>
<line x1="139.00" y1="269.02" x2="139.00" y2="273.22" stroke="#1f5a96" stroke-width="1.05"/>
<line x1="144.00" y1="269.71" x2="144.00" y2="273.91" stroke="#1f5a96" stroke-width="1.05"/>
<line x1="146.00" y1="269.99" x2="146.00" y2="274.19" stroke="#1f5a96" stroke-width="1.05"/>
<line x1="150.00" y1="274.38" x2="150.00" y2="278.58" stroke="#1f5a96" stroke-width="1.05"/>
<line x1="152.00" y1="276.92" x2="152.00" y2="281.12" stroke="#1f5a96" stroke-width="1.05"/>
<line x1="155.00" y1="277.59" x2="155.00" y2="281.79" stroke="#1f5a96" stroke-width="1.05"/>
<line x1="158.00" y1="278.26" x2="158.00" y2="282.46" stroke="#1f5a96" stroke-width="1.05"/>
<line x1="161.00" y1="279.10" x2="161.00" y2="283.30" stroke="#1f5a96" stroke-width="1.05"/>
<line x1="164.00" y1="280.29" x2="164.00" y2="284.49" stroke="#1f5a96" stroke-width="1.05"/>
<line x1="167.00" y1="281.25" x2="167.00" y2="285.46" stroke="#1f5a96" stroke-width="1.05"/>
<line x1="170.00" y1="281.89" x2="170.00" y2="286.09" stroke="#1f5a96" stroke-width="1.05"/>
<line x1="173.00" y1="282.53" x2="173.00" y2="286.73" stroke="#1f5a96" stroke-width="1.05"/>
<line x1="176.00" y1="283.57" x2="176.00" y2="287.77" stroke="#1f5a96" stroke-width="1.05"/>
<line x1="178.00" y1="284.37" x2="178.00" y2="288.57" stroke="#1f5a96" stroke-width="1.05"/>
<line x1="181.00" y1="285.23" x2="181.00" y2="289.43" stroke="#1f5a96" stroke-width="1.05"/>
<line x1="184.00" y1="285.72" x2="184.00" y2="289.92" stroke="#1f5a96" stroke-width="1.05"/>
<line x1="187.00" y1="286.21" x2="187.00" y2="290.41" stroke="#1f5a96" stroke-width="1.05"/>
<line x1="190.00" y1="286.70" x2="190.00" y2="290.90" stroke="#1f5a96" stroke-width="1.05"/>
<line x1="193.00" y1="287.59" x2="193.00" y2="291.79" stroke="#1f5a96" stroke-width="1.05"/>
<line x1="196.00" y1="289.90" x2="196.00" y2="294.10" stroke="#1f5a96" stroke-width="1.05"/>
<line x1="199.00" y1="291.55" x2="199.00" y2="295.75" stroke="#1f5a96" stroke-width="1.05"/>
<line x1="203.00" y1="292.18" x2="203.00" y2="296.38" stroke="#1f5a96" stroke-width="1.05"/>
<line x1="206.00" y1="292.26" x2="206.00" y2="296.46" stroke="#1f5a96" stroke-width="1.05"/>
<line x1="210.00" y1="292.37" x2="210.00" y2="296.57" stroke="#1f5a96" stroke-width="1.05"/>
<line x1="213.00" y1="292.45" x2="213.00" y2="296.65" stroke="#1f5a96" stroke-width="1.05"/>
<line x1="217.00" y1="295.10" x2="217.00" y2="299.30" stroke="#1f5a96" stroke-width="1.05"/>
<line x1="220.00" y1="295.14" x2="220.00" y2="299.34" stroke="#1f5a96" stroke-width="1.05"/>
<line x1="224.40" y1="295.20" x2="224.40" y2="299.40" stroke="#1f5a96" stroke-width="1.05"/>
<path d="M56.10,233.30 L80.60,233.30 H81.29 V234.85 H81.98 V236.40 H82.67 V237.95 H83.36 V239.50 H84.05 V241.05 H84.74 V242.60 H85.43 V244.15 H86.12 V245.70 H86.81 V247.25 H87.50 V248.80 H88.38 V250.38 H89.25 V251.95 H90.12 V253.53 H91.00 V255.10 L96.80,255.10 H97.93 V256.43 H99.07 V257.77 H100.20 V259.10 H100.32 V260.84 H100.44 V262.58 H100.56 V264.32 H100.68 V266.06 H100.80 V267.80 H101.40 V268.40 H103.40 V270.40 H105.40 V272.40 L112.90,272.40 H116.40 V273.60 L116.40,277.60 H118.70 V278.45 H121.00 V279.30 H123.30 V280.45 H125.60 V281.60 H130.00 V281.50 H132.90 V282.85 H135.80 V284.20 L140.40,284.20 H141.00 V285.40 L158.80,285.40 H162.30 V287.10 H163.40 V288.80 L169.20,288.80 H171.50 V289.95 H173.80 V291.10 L190.80,291.10 H190.98 V292.65 H191.15 V294.20 H191.32 V295.75 H191.50 V297.30 L221.50,297.30 H221.54 V298.93 H221.57 V300.55 H221.61 V302.18 H221.65 V303.81 H221.68 V305.44 H221.72 V307.06 H221.75 V308.69 H221.79 V310.32 H221.83 V311.95 H221.86 V313.57 H221.90 V315.20" fill="none" stroke="#c8102e" stroke-width="1.35"/>
<line x1="135.80" y1="282.10" x2="135.80" y2="286.30" stroke="#c8102e" stroke-width="1.05"/>
<line x1="157.20" y1="283.30" x2="157.20" y2="287.50" stroke="#c8102e" stroke-width="1.05"/>
<line x1="160.50" y1="284.13" x2="160.50" y2="288.33" stroke="#c8102e" stroke-width="1.05"/>
<line x1="167.50" y1="286.70" x2="167.50" y2="290.90" stroke="#c8102e" stroke-width="1.05"/>
<line x1="175.50" y1="289.00" x2="175.50" y2="293.20" stroke="#c8102e" stroke-width="1.05"/>
<line x1="186.00" y1="289.00" x2="186.00" y2="293.20" stroke="#c8102e" stroke-width="1.05"/>
<line x1="190.00" y1="289.00" x2="190.00" y2="293.20" stroke="#c8102e" stroke-width="1.05"/>
<line x1="206.00" y1="295.20" x2="206.00" y2="299.40" stroke="#c8102e" stroke-width="1.05"/>
<line x1="216.00" y1="295.20" x2="216.00" y2="299.40" stroke="#c8102e" stroke-width="1.05"/>
<text x="287.00" y="209.30" font-size="11" text-anchor="start" fill="#000" font-weight="bold" font-style="normal" >C</text>
<text x="424.00" y="214.00" font-size="8.85" text-anchor="middle" fill="#000000" stroke="#000000" stroke-width="0.2" font-weight="normal" font-style="normal" >Lenalidomide maintenance</text>
<line x1="336.80" y1="227.80" x2="336.80" y2="316.00" stroke="#4a4a4a" stroke-width="1.5" />
<line x1="336.10" y1="315.40" x2="511.60" y2="315.40" stroke="#1c1c1c" stroke-width="1.3" />
<line x1="333.60" y1="314.60" x2="336.80" y2="314.60" stroke="#333333" stroke-width="1" />
<text x="329.60" y="317.35" font-size="7.9" text-anchor="end" fill="#000000" stroke="#000000" stroke-width="0.2" font-weight="normal" font-style="normal" >0</text>
<line x1="333.60" y1="298.34" x2="336.80" y2="298.34" stroke="#333333" stroke-width="1" />
<text x="329.60" y="301.09" font-size="7.9" text-anchor="end" fill="#000000" stroke="#000000" stroke-width="0.2" font-weight="normal" font-style="normal" >20</text>
<line x1="333.60" y1="282.08" x2="336.80" y2="282.08" stroke="#333333" stroke-width="1" />
<text x="329.60" y="284.83" font-size="7.9" text-anchor="end" fill="#000000" stroke="#000000" stroke-width="0.2" font-weight="normal" font-style="normal" >40</text>
<line x1="333.60" y1="265.82" x2="336.80" y2="265.82" stroke="#333333" stroke-width="1" />
<text x="329.60" y="268.57" font-size="7.9" text-anchor="end" fill="#000000" stroke="#000000" stroke-width="0.2" font-weight="normal" font-style="normal" >60</text>
<line x1="333.60" y1="249.56" x2="336.80" y2="249.56" stroke="#333333" stroke-width="1" />
<text x="329.60" y="252.31" font-size="7.9" text-anchor="end" fill="#000000" stroke="#000000" stroke-width="0.2" font-weight="normal" font-style="normal" >80</text>
<line x1="333.60" y1="233.30" x2="336.80" y2="233.30" stroke="#333333" stroke-width="1" />
<text x="329.60" y="236.05" font-size="7.9" text-anchor="end" fill="#000000" stroke="#000000" stroke-width="0.2" font-weight="normal" font-style="normal" >100</text>
<line x1="336.80" y1="315.40" x2="336.80" y2="318.20" stroke="#333333" stroke-width="1" />
<text x="336.80" y="327.90" font-size="8.1" text-anchor="middle" fill="#000000" stroke="#000000" stroke-width="0.2" font-weight="normal" font-style="normal" >0</text>
<line x1="380.20" y1="315.40" x2="380.20" y2="318.20" stroke="#333333" stroke-width="1" />
<text x="380.20" y="327.90" font-size="8.1" text-anchor="middle" fill="#000000" stroke="#000000" stroke-width="0.2" font-weight="normal" font-style="normal" >24</text>
<line x1="423.60" y1="315.40" x2="423.60" y2="318.20" stroke="#333333" stroke-width="1" />
<text x="423.60" y="327.90" font-size="8.1" text-anchor="middle" fill="#000000" stroke="#000000" stroke-width="0.2" font-weight="normal" font-style="normal" >48</text>
<line x1="467.00" y1="315.40" x2="467.00" y2="318.20" stroke="#333333" stroke-width="1" />
<text x="467.00" y="327.90" font-size="8.1" text-anchor="middle" fill="#000000" stroke="#000000" stroke-width="0.2" font-weight="normal" font-style="normal" >72</text>
<text transform="translate(311.60,270.00) rotate(-90)" font-size="9" text-anchor="middle" fill="#000000" stroke="#000000" stroke-width="0.2" textLength="21" lengthAdjust="spacingAndGlyphs">OS [%]</text>
<text x="423.80" y="341.60" font-size="8.6" text-anchor="middle" fill="#000000" stroke="#000000" stroke-width="0.2" textLength="41.5" lengthAdjust="spacingAndGlyphs">Time [months]</text>
<text x="347.40" y="306.00" font-size="7.8" text-anchor="start" fill="#000000" stroke="#000000" stroke-width="0.2" font-weight="normal" font-style="normal" >P = .001</text>
<line x1="310.00" y1="353.80" x2="325.30" y2="353.80" stroke="#1f5a96" stroke-width="1.5" />
<line x1="310.00" y1="362.90" x2="325.30" y2="362.90" stroke="#c8102e" stroke-width="1.5" />
<text x="336.90" y="356.00" font-size="8.1" text-anchor="middle" fill="#000000" stroke="#000000" stroke-width="0.2" font-weight="normal" font-style="normal" >0</text>
<text x="386.30" y="356.00" font-size="8.1" text-anchor="end" fill="#000000" stroke="#000000" stroke-width="0.2" font-weight="normal" font-style="normal" >321</text>
<text x="430.00" y="356.00" font-size="8.1" text-anchor="end" fill="#000000" stroke="#000000" stroke-width="0.2" font-weight="normal" font-style="normal" >234</text>
<text x="471.30" y="356.00" font-size="8.1" text-anchor="end" fill="#000000" stroke="#000000" stroke-width="0.2" font-weight="normal" font-style="normal" >57</text>
<text x="336.90" y="365.40" font-size="8.1" text-anchor="middle" fill="#000000" stroke="#000000" stroke-width="0.2" font-weight="normal" font-style="normal" >0</text>
<text x="386.30" y="365.40" font-size="8.1" text-anchor="end" fill="#000000" stroke="#000000" stroke-width="0.2" font-weight="normal" font-style="normal" >61</text>
<text x="430.00" y="365.40" font-size="8.1" text-anchor="end" fill="#000000" stroke="#000000" stroke-width="0.2" font-weight="normal" font-style="normal" >44</text>
<text x="471.30" y="365.40" font-size="8.1" text-anchor="end" fill="#000000" stroke="#000000" stroke-width="0.2" font-weight="normal" font-style="normal" >7</text>
<path d="M336.80,233.30 L361.30,233.30 H365.73 V234.03 H370.17 V234.77 H374.60 V235.50 H378.05 V236.10 H381.50 V236.70 H384.20 V237.47 H386.90 V238.23 H389.60 V239.00 H393.07 V239.93 H396.53 V240.87 H400.00 V241.80 H405.70 V242.40 H408.80 V243.37 H411.90 V244.33 H415.00 V245.30 H418.50 V246.50 H427.70 V247.10 H431.50 V248.10 H434.07 V249.07 H436.63 V250.03 H439.20 V251.00 H446.90 V251.90 H450.75 V252.70 H454.60 V253.50 H466.20 V254.20 H470.00 V255.00 H473.80 V255.80 H476.37 V256.77 H478.93 V257.73 H481.50 V258.70 H483.90 V259.95 H486.30 V261.20 L505.60,261.20" fill="none" stroke="#1f5a96" stroke-width="1.35"/>
<line x1="375.20" y1="233.50" x2="375.20" y2="237.70" stroke="#1f5a96" stroke-width="1.05"/>
<line x1="376.40" y1="233.71" x2="376.40" y2="237.91" stroke="#1f5a96" stroke-width="1.05"/>
<line x1="377.60" y1="233.92" x2="377.60" y2="238.12" stroke="#1f5a96" stroke-width="1.05"/>
<line x1="379.00" y1="234.17" x2="379.00" y2="238.37" stroke="#1f5a96" stroke-width="1.05"/>
<line x1="388.10" y1="236.47" x2="388.10" y2="240.67" stroke="#1f5a96" stroke-width="1.05"/>
<line x1="390.00" y1="237.01" x2="390.00" y2="241.21" stroke="#1f5a96" stroke-width="1.05"/>
<line x1="400.00" y1="239.70" x2="400.00" y2="243.90" stroke="#1f5a96" stroke-width="1.05"/>
<line x1="405.50" y1="240.28" x2="405.50" y2="244.48" stroke="#1f5a96" stroke-width="1.05"/>
<line x1="407.00" y1="240.71" x2="407.00" y2="244.91" stroke="#1f5a96" stroke-width="1.05"/>
<line x1="409.00" y1="241.33" x2="409.00" y2="245.53" stroke="#1f5a96" stroke-width="1.05"/>
<line x1="410.50" y1="241.80" x2="410.50" y2="246.00" stroke="#1f5a96" stroke-width="1.05"/>
<line x1="412.00" y1="242.26" x2="412.00" y2="246.46" stroke="#1f5a96" stroke-width="1.05"/>
<line x1="413.50" y1="242.73" x2="413.50" y2="246.93" stroke="#1f5a96" stroke-width="1.05"/>
<line x1="415.00" y1="243.20" x2="415.00" y2="247.40" stroke="#1f5a96" stroke-width="1.05"/>
<line x1="420.00" y1="244.50" x2="420.00" y2="248.70" stroke="#1f5a96" stroke-width="1.05"/>
<line x1="424.00" y1="244.76" x2="424.00" y2="248.96" stroke="#1f5a96" stroke-width="1.05"/>
<line x1="427.00" y1="244.95" x2="427.00" y2="249.15" stroke="#1f5a96" stroke-width="1.05"/>
<line x1="430.00" y1="245.61" x2="430.00" y2="249.81" stroke="#1f5a96" stroke-width="1.05"/>
<line x1="432.00" y1="246.19" x2="432.00" y2="250.39" stroke="#1f5a96" stroke-width="1.05"/>
<line x1="435.00" y1="247.32" x2="435.00" y2="251.52" stroke="#1f5a96" stroke-width="1.05"/>
<line x1="437.00" y1="248.07" x2="437.00" y2="252.27" stroke="#1f5a96" stroke-width="1.05"/>
<line x1="440.00" y1="248.99" x2="440.00" y2="253.19" stroke="#1f5a96" stroke-width="1.05"/>
<line x1="443.00" y1="249.34" x2="443.00" y2="253.54" stroke="#1f5a96" stroke-width="1.05"/>
<line x1="446.00" y1="249.69" x2="446.00" y2="253.89" stroke="#1f5a96" stroke-width="1.05"/>
<line x1="449.00" y1="250.24" x2="449.00" y2="254.44" stroke="#1f5a96" stroke-width="1.05"/>
<line x1="452.00" y1="250.86" x2="452.00" y2="255.06" stroke="#1f5a96" stroke-width="1.05"/>
<line x1="455.00" y1="251.42" x2="455.00" y2="255.62" stroke="#1f5a96" stroke-width="1.05"/>
<line x1="458.00" y1="251.61" x2="458.00" y2="255.81" stroke="#1f5a96" stroke-width="1.05"/>
<line x1="461.00" y1="251.79" x2="461.00" y2="255.99" stroke="#1f5a96" stroke-width="1.05"/>
<line x1="464.00" y1="251.97" x2="464.00" y2="256.17" stroke="#1f5a96" stroke-width="1.05"/>
<line x1="467.00" y1="252.27" x2="467.00" y2="256.47" stroke="#1f5a96" stroke-width="1.05"/>
<line x1="470.00" y1="252.90" x2="470.00" y2="257.10" stroke="#1f5a96" stroke-width="1.05"/>
<line x1="474.00" y1="253.78" x2="474.00" y2="257.98" stroke="#1f5a96" stroke-width="1.05"/>
<line x1="478.00" y1="255.28" x2="478.00" y2="259.48" stroke="#1f5a96" stroke-width="1.05"/>
<line x1="481.00" y1="256.41" x2="481.00" y2="260.61" stroke="#1f5a96" stroke-width="1.05"/>
<line x1="484.00" y1="257.90" x2="484.00" y2="262.10" stroke="#1f5a96" stroke-width="1.05"/>
<line x1="489.00" y1="259.10" x2="489.00" y2="263.30" stroke="#1f5a96" stroke-width="1.05"/>
<line x1="493.00" y1="259.10" x2="493.00" y2="263.30" stroke="#1f5a96" stroke-width="1.05"/>
<line x1="497.00" y1="259.10" x2="497.00" y2="263.30" stroke="#1f5a96" stroke-width="1.05"/>
<line x1="501.00" y1="259.10" x2="501.00" y2="263.30" stroke="#1f5a96" stroke-width="1.05"/>
<line x1="505.60" y1="259.10" x2="505.60" y2="263.30" stroke="#1f5a96" stroke-width="1.05"/>
<path d="M336.80,233.30 L361.30,233.30 H363.10 V235.50 H366.50 V236.70 H370.00 V238.40 H372.90 V239.85 H375.80 V241.30 H379.25 V242.15 H382.70 V243.00 H386.10 V245.30 H389.00 V246.15 H391.90 V247.00 H394.20 V249.30 H397.65 V250.75 H401.10 V252.20 H410.40 V252.80 H412.70 V253.95 H415.00 V255.10 H417.70 V256.40 H420.40 V257.70 H422.10 V259.15 H423.80 V260.60 H426.70 V262.50 H429.60 V264.40 L448.80,264.40 H449.47 V266.00 H450.13 V267.60 H450.80 V269.20 L473.80,269.20 H473.88 V270.74 H473.96 V272.28 H474.04 V273.82 H474.12 V275.36 H474.20 V276.90 L501.70,276.90" fill="none" stroke="#c8102e" stroke-width="1.35"/>
<line x1="385.50" y1="242.79" x2="385.50" y2="246.99" stroke="#c8102e" stroke-width="1.05"/>
<line x1="402.00" y1="250.16" x2="402.00" y2="254.36" stroke="#c8102e" stroke-width="1.05"/>
<line x1="432.00" y1="262.30" x2="432.00" y2="266.50" stroke="#c8102e" stroke-width="1.05"/>
<line x1="434.00" y1="262.30" x2="434.00" y2="266.50" stroke="#c8102e" stroke-width="1.05"/>
<line x1="437.00" y1="262.30" x2="437.00" y2="266.50" stroke="#c8102e" stroke-width="1.05"/>
<line x1="440.00" y1="262.30" x2="440.00" y2="266.50" stroke="#c8102e" stroke-width="1.05"/>
<line x1="444.00" y1="262.30" x2="444.00" y2="266.50" stroke="#c8102e" stroke-width="1.05"/>
<line x1="452.00" y1="267.10" x2="452.00" y2="271.30" stroke="#c8102e" stroke-width="1.05"/>
<line x1="456.00" y1="267.10" x2="456.00" y2="271.30" stroke="#c8102e" stroke-width="1.05"/>
<line x1="459.00" y1="267.10" x2="459.00" y2="271.30" stroke="#c8102e" stroke-width="1.05"/>
<line x1="462.00" y1="267.10" x2="462.00" y2="271.30" stroke="#c8102e" stroke-width="1.05"/>
<line x1="465.00" y1="267.10" x2="465.00" y2="271.30" stroke="#c8102e" stroke-width="1.05"/>
<line x1="468.00" y1="267.10" x2="468.00" y2="271.30" stroke="#c8102e" stroke-width="1.05"/>
<line x1="486.00" y1="274.80" x2="486.00" y2="279.00" stroke="#c8102e" stroke-width="1.05"/>
<line x1="492.00" y1="274.80" x2="492.00" y2="279.00" stroke="#c8102e" stroke-width="1.05"/>
<line x1="498.00" y1="274.80" x2="498.00" y2="279.00" stroke="#c8102e" stroke-width="1.05"/>
<line x1="501.70" y1="274.80" x2="501.70" y2="279.00" stroke="#c8102e" stroke-width="1.05"/>
<text x="7.80" y="405.30" font-size="11" text-anchor="start" fill="#000" font-weight="bold" font-style="normal" >D</text>
<text x="143.40" y="410.00" font-size="8.85" text-anchor="middle" fill="#000000" stroke="#000000" stroke-width="0.2" font-weight="normal" font-style="normal" >Bortezomib maintenance</text>
<line x1="56.10" y1="423.80" x2="56.10" y2="512.00" stroke="#4a4a4a" stroke-width="1.5" />
<line x1="55.40" y1="511.40" x2="230.50" y2="511.40" stroke="#1c1c1c" stroke-width="1.3" />
<line x1="52.90" y1="510.60" x2="56.10" y2="510.60" stroke="#333333" stroke-width="1" />
<text x="48.90" y="513.35" font-size="7.9" text-anchor="end" fill="#000000" stroke="#000000" stroke-width="0.2" font-weight="normal" font-style="normal" >0</text>
<line x1="52.90" y1="494.34" x2="56.10" y2="494.34" stroke="#333333" stroke-width="1" />
<text x="48.90" y="497.09" font-size="7.9" text-anchor="end" fill="#000000" stroke="#000000" stroke-width="0.2" font-weight="normal" font-style="normal" >20</text>
<line x1="52.90" y1="478.08" x2="56.10" y2="478.08" stroke="#333333" stroke-width="1" />
<text x="48.90" y="480.83" font-size="7.9" text-anchor="end" fill="#000000" stroke="#000000" stroke-width="0.2" font-weight="normal" font-style="normal" >40</text>
<line x1="52.90" y1="461.82" x2="56.10" y2="461.82" stroke="#333333" stroke-width="1" />
<text x="48.90" y="464.57" font-size="7.9" text-anchor="end" fill="#000000" stroke="#000000" stroke-width="0.2" font-weight="normal" font-style="normal" >60</text>
<line x1="52.90" y1="445.56" x2="56.10" y2="445.56" stroke="#333333" stroke-width="1" />
<text x="48.90" y="448.31" font-size="7.9" text-anchor="end" fill="#000000" stroke="#000000" stroke-width="0.2" font-weight="normal" font-style="normal" >80</text>
<line x1="52.90" y1="429.30" x2="56.10" y2="429.30" stroke="#333333" stroke-width="1" />
<text x="48.90" y="432.05" font-size="7.9" text-anchor="end" fill="#000000" stroke="#000000" stroke-width="0.2" font-weight="normal" font-style="normal" >100</text>
<line x1="56.10" y1="511.40" x2="56.10" y2="514.20" stroke="#333333" stroke-width="1" />
<text x="56.10" y="523.90" font-size="8.1" text-anchor="middle" fill="#000000" stroke="#000000" stroke-width="0.2" font-weight="normal" font-style="normal" >0</text>
<line x1="84.60" y1="511.40" x2="84.60" y2="514.20" stroke="#333333" stroke-width="1" />
<text x="84.60" y="523.90" font-size="8.1" text-anchor="middle" fill="#000000" stroke="#000000" stroke-width="0.2" font-weight="normal" font-style="normal" >24</text>
<line x1="113.10" y1="511.40" x2="113.10" y2="514.20" stroke="#333333" stroke-width="1" />
<text x="113.10" y="523.90" font-size="8.1" text-anchor="middle" fill="#000000" stroke="#000000" stroke-width="0.2" font-weight="normal" font-style="normal" >48</text>
<line x1="141.60" y1="511.40" x2="141.60" y2="514.20" stroke="#333333" stroke-width="1" />
<text x="141.60" y="523.90" font-size="8.1" text-anchor="middle" fill="#000000" stroke="#000000" stroke-width="0.2" font-weight="normal" font-style="normal" >72</text>
<line x1="170.10" y1="511.40" x2="170.10" y2="514.20" stroke="#333333" stroke-width="1" />
<text x="170.10" y="523.90" font-size="8.1" text-anchor="middle" fill="#000000" stroke="#000000" stroke-width="0.2" font-weight="normal" font-style="normal" >96</text>
<line x1="198.60" y1="511.40" x2="198.60" y2="514.20" stroke="#333333" stroke-width="1" />
<text x="198.60" y="523.90" font-size="8.1" text-anchor="middle" fill="#000000" stroke="#000000" stroke-width="0.2" font-weight="normal" font-style="normal" >120</text>
<text transform="translate(30.90,466.00) rotate(-90)" font-size="9" text-anchor="middle" fill="#000000" stroke="#000000" stroke-width="0.2" textLength="25" lengthAdjust="spacingAndGlyphs">PFS [%]</text>
<text x="143.10" y="537.60" font-size="8.6" text-anchor="middle" fill="#000000" stroke="#000000" stroke-width="0.2" textLength="41.5" lengthAdjust="spacingAndGlyphs">Time [months]</text>
<text x="66.70" y="502.00" font-size="7.8" text-anchor="start" fill="#000000" stroke="#000000" stroke-width="0.2" font-weight="normal" font-style="normal" >P = .6</text>
<line x1="29.30" y1="549.80" x2="44.60" y2="549.80" stroke="#1f5a96" stroke-width="1.5" />
<line x1="29.30" y1="558.90" x2="44.60" y2="558.90" stroke="#c8102e" stroke-width="1.5" />
<text x="56.20" y="552.00" font-size="8.1" text-anchor="middle" fill="#000000" stroke="#000000" stroke-width="0.2" font-weight="normal" font-style="normal" >0</text>
<text x="84.50" y="552.00" font-size="8.1" text-anchor="middle" fill="#000000" stroke="#000000" stroke-width="0.2" font-weight="normal" font-style="normal" >34</text>
<text x="113.00" y="552.00" font-size="8.1" text-anchor="middle" fill="#000000" stroke="#000000" stroke-width="0.2" font-weight="normal" font-style="normal" >15</text>
<text x="141.30" y="552.00" font-size="8.1" text-anchor="middle" fill="#000000" stroke="#000000" stroke-width="0.2" font-weight="normal" font-style="normal" >7</text>
<text x="170.00" y="552.00" font-size="8.1" text-anchor="middle" fill="#000000" stroke="#000000" stroke-width="0.2" font-weight="normal" font-style="normal" >6</text>
<text x="198.20" y="552.00" font-size="8.1" text-anchor="middle" fill="#000000" stroke="#000000" stroke-width="0.2" font-weight="normal" font-style="normal" >3</text>
<text x="56.20" y="561.40" font-size="8.1" text-anchor="middle" fill="#000000" stroke="#000000" stroke-width="0.2" font-weight="normal" font-style="normal" >0</text>
<text x="84.50" y="561.40" font-size="8.1" text-anchor="middle" fill="#000000" stroke="#000000" stroke-width="0.2" font-weight="normal" font-style="normal" >28</text>
<text x="113.00" y="561.40" font-size="8.1" text-anchor="middle" fill="#000000" stroke="#000000" stroke-width="0.2" font-weight="normal" font-style="normal" >10</text>
<text x="141.30" y="561.40" font-size="8.1" text-anchor="middle" fill="#000000" stroke="#000000" stroke-width="0.2" font-weight="normal" font-style="normal" >7</text>
<text x="170.00" y="561.40" font-size="8.1" text-anchor="middle" fill="#000000" stroke="#000000" stroke-width="0.2" font-weight="normal" font-style="normal" >5</text>
<text x="198.20" y="561.40" font-size="8.1" text-anchor="middle" fill="#000000" stroke="#000000" stroke-width="0.2" font-weight="normal" font-style="normal" >2</text>
<line x1="168.50" y1="426.50" x2="183.70" y2="426.50" stroke="#1f5a96" stroke-width="1.5" />
<line x1="168.50" y1="435.70" x2="183.70" y2="435.70" stroke="#c8102e" stroke-width="1.5" />
<text x="186.50" y="429.10" font-size="7.25" fill="#000000" stroke="#000000" stroke-width="0.2"><tspan font-style="italic">MCT1</tspan> low</text>
<text x="186.50" y="438.60" font-size="7.25" fill="#000000" stroke="#000000" stroke-width="0.2"><tspan font-style="italic">MCT1</tspan> high</text>
<path d="M56.5,429.2 H70.2 V430.5 H72.0 V432.5 H73.5 V434.5 H74.5 V436.3 H77.9 V438.5 H78.6 V441.5 H80.0 V444.5 H81.3 V447.3 H83.5 V448.8 H85.9 V450.5 H86.6 V454.6 H88.2 V455.9 H95.8 V458.2 H97.5 V461.5 H98.5 V464.5 H99.4 V467.3 H102.3 V470 H104 V472.5 H105.5 V475 H107 V477.5 H108.1 V478.4 H111.0 V480.5 H113 V482.5 H115 V484.5 H117.7 V486.5 H121.5 V488.0 H123 V490 H124.2 V492 H125.4 V494.2 H133.1 V496.0 H142 V497.9 H205.6 V502.7 H225.8 V510.5" fill="none" stroke="#1f5a96" stroke-width="1.35"/>
<line x1="70.50" y1="428.40" x2="70.50" y2="432.60" stroke="#1f5a96" stroke-width="1.05"/>
<line x1="168.00" y1="495.80" x2="168.00" y2="500.00" stroke="#1f5a96" stroke-width="1.05"/>
<line x1="173.00" y1="495.80" x2="173.00" y2="500.00" stroke="#1f5a96" stroke-width="1.05"/>
<line x1="196.00" y1="495.80" x2="196.00" y2="500.00" stroke="#1f5a96" stroke-width="1.05"/>
<line x1="210.00" y1="500.60" x2="210.00" y2="504.80" stroke="#1f5a96" stroke-width="1.05"/>
<path d="M56.5,429.2 H73.3 V431.2 H77.0 V433.2 H78.2 V436.5 H79.3 V440.8 H83.2 V445.0 H86.6 V454.0 H88.2 V456.6 H91.7 V460 H92.5 V464 H93.3 V468 H94.1 V471.2 H100.4 V475 H101.5 V479 H102.5 V482.7 H103.5 V485 H105.2 V487.5 H121.5 V490.4 H133.4 V492.7 H152.8 V495.4 H159.7 V498.1 H174.2 V500.8 H187.4 V503.7 H219.3 V509.8" fill="none" stroke="#c8102e" stroke-width="1.35"/>
<line x1="120.00" y1="485.40" x2="120.00" y2="489.60" stroke="#c8102e" stroke-width="1.05"/>
<line x1="197.00" y1="501.60" x2="197.00" y2="505.80" stroke="#c8102e" stroke-width="1.05"/>
<path d="M56.50,429.20 L70.20,429.20 H72.10 V431.50 H73.55 V432.95 H75.00 V434.40 H76.45 V436.35 H77.90 V438.30 H78.62 V439.98 H79.35 V441.65 H80.08 V443.32 H80.80 V445.00 H82.07 V446.60 H83.33 V448.20 H84.60 V449.80 H85.32 V451.25 H86.05 V452.70 H86.78 V454.15 H87.50 V455.60 L96.20,455.60 H96.76 V457.14 H97.32 V458.68 H97.88 V460.22 H98.44 V461.76 H99.00 V463.30 H99.97 V464.73 H100.95 V466.15 H101.93 V467.57 H102.90 V469.00 H103.86 V470.74 H104.82 V472.48 H105.78 V474.22 H106.74 V475.96 H107.70 V477.70 H109.30 V479.30 H110.90 V480.90 H112.50 V482.50 H114.10 V484.10 H115.70 V485.70 H117.30 V487.30 H118.75 V488.75 H120.20 V490.20 H121.65 V491.65 H123.10 V493.10 H132.70 V494.00 H134.60 V496.00 H138.25 V496.95 H141.90 V497.90 L205.40,497.90 H205.53 V499.50 H205.67 V501.10 H205.80 V502.70 L225.60,502.70 H225.68 V504.26 H225.76 V505.82 H225.84 V507.38 H225.92 V508.94 H226.00 V510.50" fill="none" stroke="#1f5a96" stroke-width="1.35"/>
<path d="M56.50,429.20 L73.00,429.20 H76.90 V431.50 H77.53 V433.10 H78.17 V434.70 H78.80 V436.30 H79.47 V437.93 H80.13 V439.57 H80.80 V441.20 H84.60 V443.00 H84.98 V444.74 H85.36 V446.48 H85.74 V448.22 H86.12 V449.96 H86.50 V451.70 H87.47 V453.15 H88.45 V454.60 H89.43 V456.05 H90.40 V457.50 H90.88 V459.19 H91.35 V460.88 H91.83 V462.56 H92.30 V464.25 H92.78 V465.94 H93.25 V467.62 H93.73 V469.31 H94.20 V471.00 L100.00,471.00 H100.58 V472.63 H101.16 V474.26 H101.74 V475.89 H102.32 V477.52 H102.90 V479.15 H103.48 V480.78 H104.06 V482.41 H104.64 V484.04 H105.22 V485.67 H105.80 V487.30 L121.20,487.30 H122.15 V488.75 H123.10 V490.20 L132.70,490.20 H133.20 V491.45 H133.70 V492.70 L152.50,492.70 H153.00 V494.05 H153.50 V495.40 L159.20,495.40 H159.70 V496.75 H160.20 V498.10 L173.70,498.10 H174.15 V499.45 H174.60 V500.80 L187.10,500.80 H187.40 V502.25 H187.70 V503.70 L218.80,503.70 H219.05 V505.18 H219.30 V506.65 H219.55 V508.12 H219.80 V509.60" fill="none" stroke="#c8102e" stroke-width="1.35"/>
<line x1="70.50" y1="427.46" x2="70.50" y2="431.66" stroke="#1f5a96" stroke-width="1.05"/>
<line x1="168.00" y1="495.80" x2="168.00" y2="500.00" stroke="#1f5a96" stroke-width="1.05"/>
<line x1="173.00" y1="495.80" x2="173.00" y2="500.00" stroke="#1f5a96" stroke-width="1.05"/>
<line x1="196.00" y1="495.80" x2="196.00" y2="500.00" stroke="#1f5a96" stroke-width="1.05"/>
<line x1="210.00" y1="500.60" x2="210.00" y2="504.80" stroke="#1f5a96" stroke-width="1.05"/>
<line x1="120.00" y1="485.20" x2="120.00" y2="489.40" stroke="#c8102e" stroke-width="1.05"/>
<line x1="197.00" y1="501.60" x2="197.00" y2="505.80" stroke="#c8102e" stroke-width="1.05"/>
<text x="287.30" y="405.30" font-size="11" text-anchor="start" fill="#000" font-weight="bold" font-style="normal" >E</text>
<text x="424.00" y="410.00" font-size="8.85" text-anchor="middle" fill="#000000" stroke="#000000" stroke-width="0.2" font-weight="normal" font-style="normal" >Bortezomib maintenance</text>
<line x1="336.80" y1="423.80" x2="336.80" y2="512.00" stroke="#4a4a4a" stroke-width="1.5" />
<line x1="336.10" y1="511.40" x2="511.40" y2="511.40" stroke="#1c1c1c" stroke-width="1.3" />
<line x1="333.60" y1="510.60" x2="336.80" y2="510.60" stroke="#333333" stroke-width="1" />
<text x="329.60" y="513.35" font-size="7.9" text-anchor="end" fill="#000000" stroke="#000000" stroke-width="0.2" font-weight="normal" font-style="normal" >0</text>
<line x1="333.60" y1="494.34" x2="336.80" y2="494.34" stroke="#333333" stroke-width="1" />
<text x="329.60" y="497.09" font-size="7.9" text-anchor="end" fill="#000000" stroke="#000000" stroke-width="0.2" font-weight="normal" font-style="normal" >20</text>
<line x1="333.60" y1="478.08" x2="336.80" y2="478.08" stroke="#333333" stroke-width="1" />
<text x="329.60" y="480.83" font-size="7.9" text-anchor="end" fill="#000000" stroke="#000000" stroke-width="0.2" font-weight="normal" font-style="normal" >40</text>
<line x1="333.60" y1="461.82" x2="336.80" y2="461.82" stroke="#333333" stroke-width="1" />
<text x="329.60" y="464.57" font-size="7.9" text-anchor="end" fill="#000000" stroke="#000000" stroke-width="0.2" font-weight="normal" font-style="normal" >60</text>
<line x1="333.60" y1="445.56" x2="336.80" y2="445.56" stroke="#333333" stroke-width="1" />
<text x="329.60" y="448.31" font-size="7.9" text-anchor="end" fill="#000000" stroke="#000000" stroke-width="0.2" font-weight="normal" font-style="normal" >80</text>
<line x1="333.60" y1="429.30" x2="336.80" y2="429.30" stroke="#333333" stroke-width="1" />
<text x="329.60" y="432.05" font-size="7.9" text-anchor="end" fill="#000000" stroke="#000000" stroke-width="0.2" font-weight="normal" font-style="normal" >100</text>
<line x1="336.80" y1="511.40" x2="336.80" y2="514.20" stroke="#333333" stroke-width="1" />
<text x="336.80" y="523.90" font-size="8.1" text-anchor="middle" fill="#000000" stroke="#000000" stroke-width="0.2" font-weight="normal" font-style="normal" >0</text>
<line x1="363.75" y1="511.40" x2="363.75" y2="514.20" stroke="#333333" stroke-width="1" />
<text x="363.75" y="523.90" font-size="8.1" text-anchor="middle" fill="#000000" stroke="#000000" stroke-width="0.2" font-weight="normal" font-style="normal" >24</text>
<line x1="390.70" y1="511.40" x2="390.70" y2="514.20" stroke="#333333" stroke-width="1" />
<text x="390.70" y="523.90" font-size="8.1" text-anchor="middle" fill="#000000" stroke="#000000" stroke-width="0.2" font-weight="normal" font-style="normal" >48</text>
<line x1="417.65" y1="511.40" x2="417.65" y2="514.20" stroke="#333333" stroke-width="1" />
<text x="417.65" y="523.90" font-size="8.1" text-anchor="middle" fill="#000000" stroke="#000000" stroke-width="0.2" font-weight="normal" font-style="normal" >72</text>
<line x1="444.60" y1="511.40" x2="444.60" y2="514.20" stroke="#333333" stroke-width="1" />
<text x="444.60" y="523.90" font-size="8.1" text-anchor="middle" fill="#000000" stroke="#000000" stroke-width="0.2" font-weight="normal" font-style="normal" >96</text>
<line x1="471.55" y1="511.40" x2="471.55" y2="514.20" stroke="#333333" stroke-width="1" />
<text x="471.55" y="523.90" font-size="8.1" text-anchor="middle" fill="#000000" stroke="#000000" stroke-width="0.2" font-weight="normal" font-style="normal" >120</text>
<line x1="498.50" y1="511.40" x2="498.50" y2="514.20" stroke="#333333" stroke-width="1" />
<text x="498.50" y="523.90" font-size="8.1" text-anchor="middle" fill="#000000" stroke="#000000" stroke-width="0.2" font-weight="normal" font-style="normal" >144</text>
<text transform="translate(311.60,466.00) rotate(-90)" font-size="9" text-anchor="middle" fill="#000000" stroke="#000000" stroke-width="0.2" textLength="21" lengthAdjust="spacingAndGlyphs">OS [%]</text>
<text x="423.80" y="537.60" font-size="8.6" text-anchor="middle" fill="#000000" stroke="#000000" stroke-width="0.2" textLength="41.5" lengthAdjust="spacingAndGlyphs">Time [months]</text>
<text x="347.40" y="502.00" font-size="7.8" text-anchor="start" fill="#000000" stroke="#000000" stroke-width="0.2" font-weight="normal" font-style="normal" >P = .28</text>
<line x1="310.00" y1="549.80" x2="325.30" y2="549.80" stroke="#1f5a96" stroke-width="1.5" />
<line x1="310.00" y1="558.90" x2="325.30" y2="558.90" stroke="#c8102e" stroke-width="1.5" />
<text x="336.90" y="552.00" font-size="8.1" text-anchor="middle" fill="#000000" stroke="#000000" stroke-width="0.2" font-weight="normal" font-style="normal" >0</text>
<text x="363.70" y="552.00" font-size="8.1" text-anchor="middle" fill="#000000" stroke="#000000" stroke-width="0.2" font-weight="normal" font-style="normal" >50</text>
<text x="391.00" y="552.00" font-size="8.1" text-anchor="middle" fill="#000000" stroke="#000000" stroke-width="0.2" font-weight="normal" font-style="normal" >44</text>
<text x="417.70" y="552.00" font-size="8.1" text-anchor="middle" fill="#000000" stroke="#000000" stroke-width="0.2" font-weight="normal" font-style="normal" >35</text>
<text x="444.30" y="552.00" font-size="8.1" text-anchor="middle" fill="#000000" stroke="#000000" stroke-width="0.2" font-weight="normal" font-style="normal" >20</text>
<text x="475.60" y="552.00" font-size="8.1" text-anchor="end" fill="#000000" stroke="#000000" stroke-width="0.2" font-weight="normal" font-style="normal" >12</text>
<text x="498.30" y="552.00" font-size="8.1" text-anchor="middle" fill="#000000" stroke="#000000" stroke-width="0.2" font-weight="normal" font-style="normal" >3</text>
<text x="336.90" y="561.40" font-size="8.1" text-anchor="middle" fill="#000000" stroke="#000000" stroke-width="0.2" font-weight="normal" font-style="normal" >0</text>
<text x="363.70" y="561.40" font-size="8.1" text-anchor="middle" fill="#000000" stroke="#000000" stroke-width="0.2" font-weight="normal" font-style="normal" >34</text>
<text x="391.00" y="561.40" font-size="8.1" text-anchor="middle" fill="#000000" stroke="#000000" stroke-width="0.2" font-weight="normal" font-style="normal" >26</text>
<text x="417.70" y="561.40" font-size="8.1" text-anchor="middle" fill="#000000" stroke="#000000" stroke-width="0.2" font-weight="normal" font-style="normal" >19</text>
<text x="444.30" y="561.40" font-size="8.1" text-anchor="middle" fill="#000000" stroke="#000000" stroke-width="0.2" font-weight="normal" font-style="normal" >15</text>
<text x="475.60" y="561.40" font-size="8.1" text-anchor="end" fill="#000000" stroke="#000000" stroke-width="0.2" font-weight="normal" font-style="normal" >8</text>
<text x="498.30" y="561.40" font-size="8.1" text-anchor="middle" fill="#000000" stroke="#000000" stroke-width="0.2" font-weight="normal" font-style="normal" >2</text>
<path d="M337,429.3 H350.3 V430.8 H364.7 V432.2 H367.1 V433.8 H372.4 V435.6 H379.1 V437.3 H398.7 V440.1 H400.6 V444.2 H419.3 V445.9 H421.3 V447.8 H426.5 V449.7 H434.2 V451.6 H437.1 V455.0 H439.2 V458.2 H458.8 V462.0 H479.0 V466.0 H480.9 V469.6 H482.3 V474.0 H500" fill="none" stroke="#1f5a96" stroke-width="1.35"/>
<line x1="359.40" y1="428.70" x2="359.40" y2="432.90" stroke="#1f5a96" stroke-width="1.05"/>
<line x1="381.50" y1="435.20" x2="381.50" y2="439.40" stroke="#1f5a96" stroke-width="1.05"/>
<line x1="384.40" y1="435.20" x2="384.40" y2="439.40" stroke="#1f5a96" stroke-width="1.05"/>
<line x1="391.40" y1="435.20" x2="391.40" y2="439.40" stroke="#1f5a96" stroke-width="1.05"/>
<line x1="404.90" y1="442.10" x2="404.90" y2="446.30" stroke="#1f5a96" stroke-width="1.05"/>
<line x1="415.50" y1="442.10" x2="415.50" y2="446.30" stroke="#1f5a96" stroke-width="1.05"/>
<line x1="428.00" y1="447.60" x2="428.00" y2="451.80" stroke="#1f5a96" stroke-width="1.05"/>
<line x1="432.80" y1="447.60" x2="432.80" y2="451.80" stroke="#1f5a96" stroke-width="1.05"/>
<line x1="441.50" y1="456.10" x2="441.50" y2="460.30" stroke="#1f5a96" stroke-width="1.05"/>
<line x1="444.40" y1="456.10" x2="444.40" y2="460.30" stroke="#1f5a96" stroke-width="1.05"/>
<line x1="446.50" y1="456.10" x2="446.50" y2="460.30" stroke="#1f5a96" stroke-width="1.05"/>
<line x1="451.60" y1="456.10" x2="451.60" y2="460.30" stroke="#1f5a96" stroke-width="1.05"/>
<line x1="455.20" y1="456.10" x2="455.20" y2="460.30" stroke="#1f5a96" stroke-width="1.05"/>
<line x1="458.10" y1="456.10" x2="458.10" y2="460.30" stroke="#1f5a96" stroke-width="1.05"/>
<line x1="468.50" y1="459.90" x2="468.50" y2="464.10" stroke="#1f5a96" stroke-width="1.05"/>
<line x1="471.80" y1="459.90" x2="471.80" y2="464.10" stroke="#1f5a96" stroke-width="1.05"/>
<line x1="472.80" y1="459.90" x2="472.80" y2="464.10" stroke="#1f5a96" stroke-width="1.05"/>
<line x1="490.60" y1="471.90" x2="490.60" y2="476.10" stroke="#1f5a96" stroke-width="1.05"/>
<line x1="498.50" y1="471.90" x2="498.50" y2="476.10" stroke="#1f5a96" stroke-width="1.05"/>
<line x1="499.60" y1="471.90" x2="499.60" y2="476.10" stroke="#1f5a96" stroke-width="1.05"/>
<path d="M337,429.3 H353.7 V431.3 H354.6 V433.7 H362.3 V435.6 H364.7 V437.0 H366.5 V440.4 H367.1 V441.3 H375.8 V442.8 H379.1 V445.2 H396.7 V449 H397.5 V453.1 H409.7 V456.0 H414.0 V458.7 H428.5 V461.5 H448.0 V466.0 H468.9 V469.6 H476.8 V475.4 H480.0 V481.5 H506" fill="none" stroke="#c8102e" stroke-width="1.35"/>
<line x1="368.60" y1="439.20" x2="368.60" y2="443.40" stroke="#c8102e" stroke-width="1.05"/>
<line x1="373.40" y1="439.20" x2="373.40" y2="443.40" stroke="#c8102e" stroke-width="1.05"/>
<line x1="391.40" y1="443.10" x2="391.40" y2="447.30" stroke="#c8102e" stroke-width="1.05"/>
<line x1="403.50" y1="451.00" x2="403.50" y2="455.20" stroke="#c8102e" stroke-width="1.05"/>
<line x1="432.30" y1="459.40" x2="432.30" y2="463.60" stroke="#c8102e" stroke-width="1.05"/>
<line x1="437.10" y1="459.40" x2="437.10" y2="463.60" stroke="#c8102e" stroke-width="1.05"/>
<line x1="441.50" y1="459.40" x2="441.50" y2="463.60" stroke="#c8102e" stroke-width="1.05"/>
<line x1="449.40" y1="463.90" x2="449.40" y2="468.10" stroke="#c8102e" stroke-width="1.05"/>
<line x1="469.60" y1="467.50" x2="469.60" y2="471.70" stroke="#c8102e" stroke-width="1.05"/>
<line x1="491.30" y1="479.40" x2="491.30" y2="483.60" stroke="#c8102e" stroke-width="1.05"/>
<line x1="494.90" y1="479.40" x2="494.90" y2="483.60" stroke="#c8102e" stroke-width="1.05"/>
<line x1="501.40" y1="479.40" x2="501.40" y2="483.60" stroke="#c8102e" stroke-width="1.05"/>
<line x1="505.70" y1="479.40" x2="505.70" y2="483.60" stroke="#c8102e" stroke-width="1.05"/>
<rect x="0" y="0" width="520" height="1.05" fill="#000"/><rect x="0" y="0" width="1.1" height="569" fill="#000"/><rect x="518.5" y="0" width="1.5" height="569" fill="#000"/><rect x="0" y="567.4" width="520" height="1.6" fill="#000"/>
</svg>
</body></html>
